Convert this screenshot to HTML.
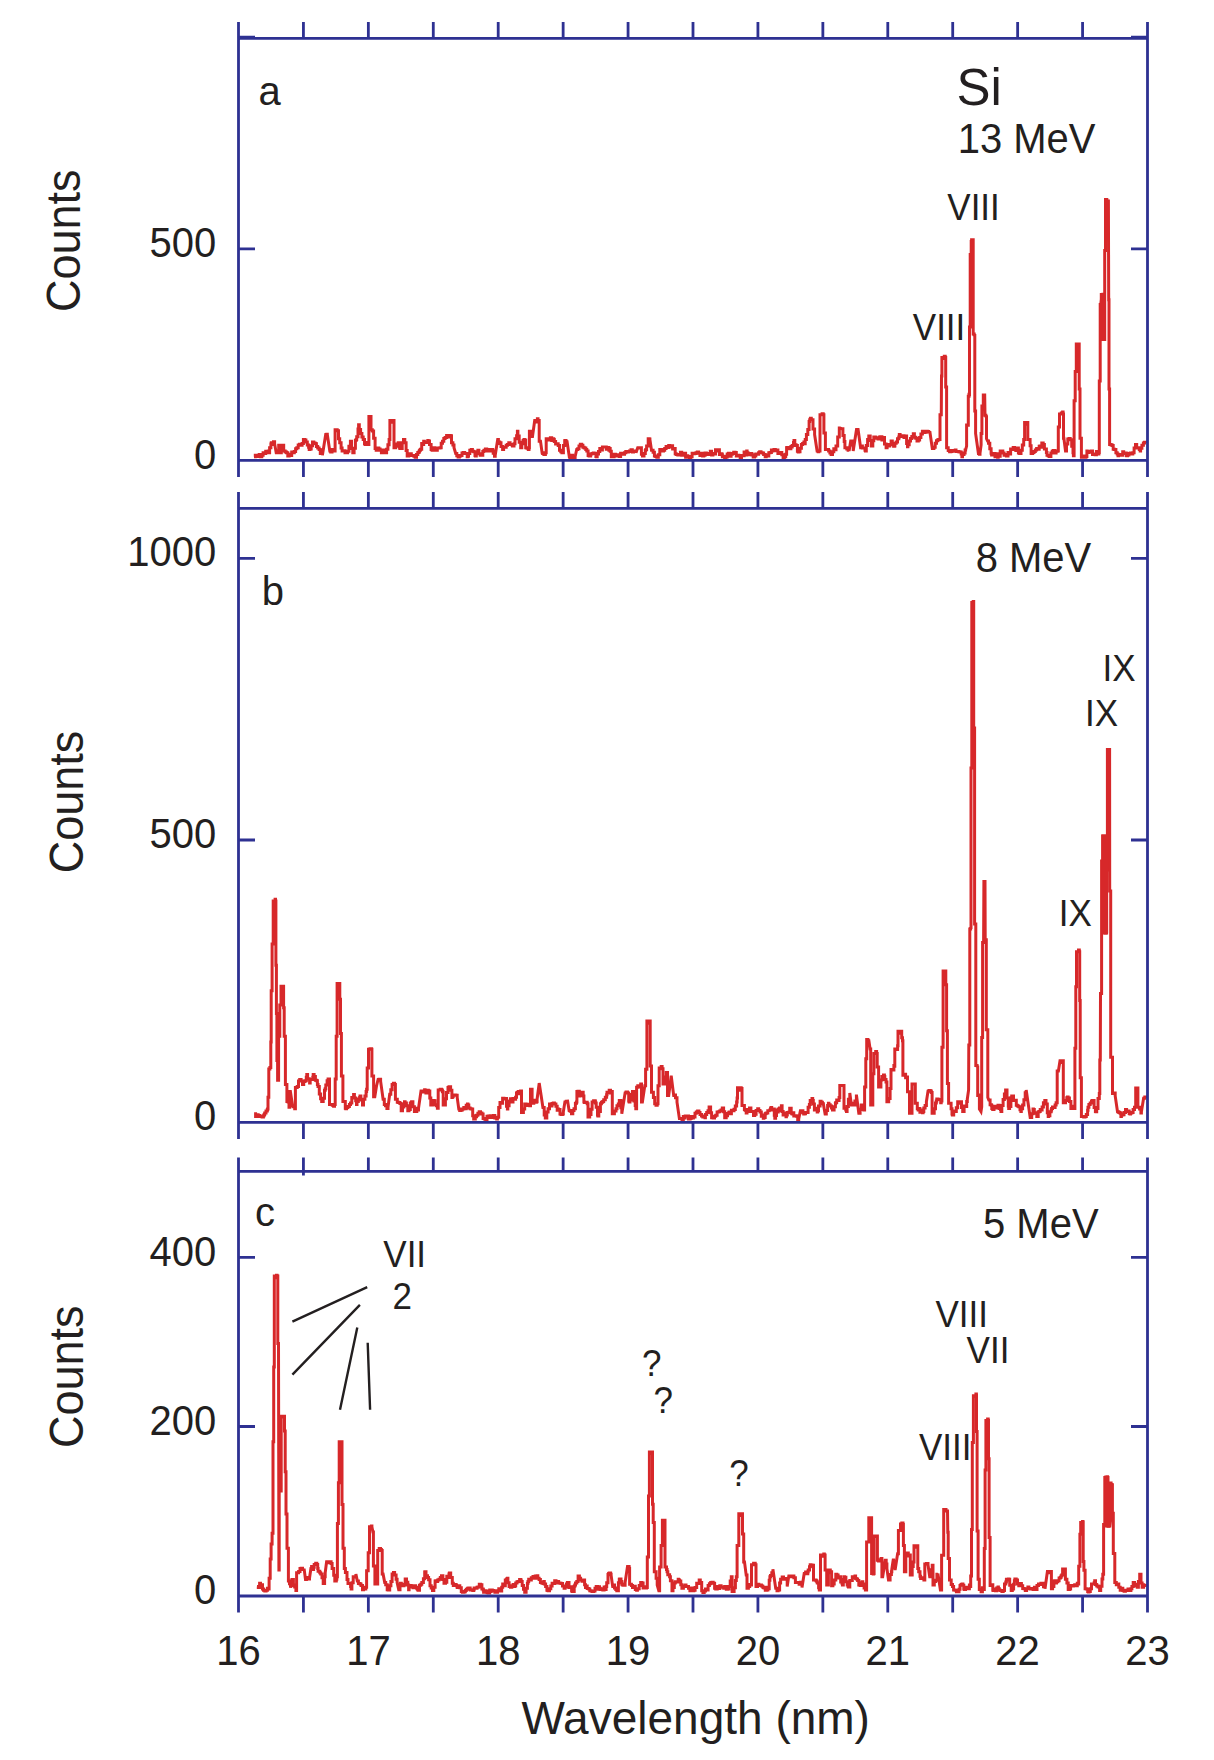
<!DOCTYPE html><html><head><meta charset="utf-8"><style>html,body{margin:0;padding:0;background:#fff;}svg{display:block}text{font-family:"Liberation Sans",sans-serif;fill:#231f20}</style></head><body>
<svg width="1214" height="1760" viewBox="0 0 1214 1760">
<rect width="1214" height="1760" fill="#fff"/>
<polyline fill="none" stroke="#d7282a" stroke-width="3.0" stroke-linejoin="miter" stroke-miterlimit="3" points="254.0,456.8 255.3,456.8 255.3,455.2 256.5,455.2 256.5,455.2 257.9,455.2 257.9,456.4 259.2,456.4 259.2,454.4 260.6,454.4 260.6,456.8 261.8,456.8 261.8,455.2 263.1,455.2 263.1,452.8 264.7,452.8 264.7,453.5 265.7,453.5 265.7,451.3 267.0,451.3 267.0,452.8 268.3,452.8 268.3,450.9 268.8,450.9 268.8,452.7 269.6,452.7 269.6,447.7 270.9,447.7 270.9,444.1 271.3,444.1 271.3,442.8 272.2,442.8 272.2,444.5 273.5,444.5 273.5,441.7 274.6,441.7 274.6,443.7 276.2,452.7 277.4,452.7 277.4,451.1 278.7,451.1 278.7,445.3 280.0,445.3 280.0,450.5 280.4,450.5 280.4,452.7 281.3,452.7 281.3,450.6 282.0,450.6 282.0,445.3 282.6,445.3 282.6,445.3 283.7,445.3 283.7,451.0 285.2,451.0 285.2,451.9 286.5,451.9 286.5,452.8 287.8,452.8 287.8,456.0 289.1,456.0 289.1,454.3 290.4,454.3 290.4,455.6 291.7,455.6 291.7,452.0 292.7,452.0 292.7,452.7 294.3,452.7 294.3,451.4 295.6,451.4 295.6,448.7 296.8,448.7 296.8,447.8 298.2,447.8 298.2,445.0 299.5,445.0 299.5,444.3 301.0,444.3 301.0,445.3 302.1,445.3 302.1,443.4 303.4,443.4 303.4,439.5 304.7,439.5 304.7,440.0 305.9,440.0 305.9,442.0 307.3,442.0 307.3,444.9 308.6,444.9 308.6,447.2 309.2,447.2 309.2,449.4 309.9,449.4 309.9,449.1 311.2,449.1 311.2,445.8 312.5,445.8 312.5,442.0 313.8,442.0 313.8,443.0 315.1,443.0 315.1,443.5 315.8,443.5 315.8,443.7 316.4,443.7 316.4,446.4 317.7,446.4 317.7,448.0 319.1,448.0 319.1,449.4 320.3,449.4 320.3,453.6 321.6,453.6 321.6,452.1 322.4,452.1 322.4,455.2 325.7,434.6 326.8,434.6 326.8,434.2 327.3,434.2 327.3,434.6 329.8,451.0 330.7,451.0 330.7,452.1 332.0,452.1 332.0,449.5 333.3,449.5 333.3,451.0 333.9,451.0 333.9,451.0 335.1,451.0 335.1,429.7 336.4,429.7 337.2,429.7 337.2,430.8 338.5,430.8 338.5,438.8 339.7,438.8 339.7,442.8 341.1,442.8 341.1,447.9 342.1,447.9 342.1,451.0 343.7,451.0 343.7,450.7 345.0,450.7 345.0,452.8 346.3,452.8 346.3,452.8 347.1,452.8 347.1,452.7 347.6,452.7 347.6,451.3 348.9,451.3 348.9,446.2 350.4,446.2 350.4,441.2 351.5,441.2 351.5,448.4 352.8,448.4 352.8,452.7 354.1,452.7 354.1,448.2 355.4,448.2 355.4,440.4 356.1,440.4 356.1,439.5 356.7,439.5 356.7,436.8 358.0,436.8 358.0,428.9 358.6,428.9 358.6,424.7 359.3,424.7 359.3,429.5 360.6,429.5 360.6,433.6 361.9,433.6 361.9,437.1 363.2,437.1 363.2,439.5 364.5,439.5 364.5,443.7 365.2,443.7 365.2,444.5 365.8,444.5 365.8,442.4 367.1,442.4 367.1,444.3 367.7,444.3 367.7,444.5 368.9,444.5 368.9,416.5 370.2,416.5 371.0,416.5 371.0,429.7 371.8,429.7 372.3,429.7 372.3,431.1 373.6,431.1 373.6,438.3 375.1,438.3 375.1,448.6 376.2,448.6 376.2,450.2 377.5,450.2 377.5,448.0 378.8,448.0 378.8,449.0 380.1,449.0 380.1,450.2 381.4,450.2 381.4,452.8 382.7,452.8 382.7,449.9 384.0,449.9 384.0,452.1 385.0,452.1 385.0,452.7 386.6,452.7 386.6,449.2 387.9,449.2 387.9,444.8 389.1,444.8 389.1,439.5 389.9,439.5 389.9,420.6 390.7,420.6 391.8,420.6 391.8,422.2 393.2,422.2 393.2,420.6 394.0,420.6 394.0,447.8 394.9,447.8 395.7,447.8 395.7,446.2 397.0,446.2 397.0,444.0 398.2,444.0 398.2,442.8 399.6,442.8 399.6,448.2 400.6,448.2 400.6,448.6 402.2,448.6 402.2,442.8 403.5,442.8 403.5,439.4 403.9,439.4 403.9,439.5 404.8,439.5 404.8,442.8 406.1,442.8 406.1,450.4 407.2,450.4 407.2,456.0 408.7,456.0 408.7,455.0 410.0,455.0 410.0,453.8 411.3,453.8 411.3,455.6 412.6,455.6 412.6,455.4 413.9,455.4 413.9,456.3 414.6,456.3 414.6,456.0 415.2,456.0 415.2,457.3 416.5,457.3 416.5,454.6 417.8,454.6 417.8,452.4 419.1,452.4 419.1,451.3 419.6,451.3 419.6,450.2 420.4,450.2 420.4,449.2 421.7,449.2 421.7,443.6 423.0,443.6 423.0,444.5 423.7,444.5 423.7,441.2 424.3,441.2 424.3,442.3 425.6,442.3 425.6,442.5 426.9,442.5 426.9,441.9 427.8,441.9 427.8,440.4 428.2,440.4 428.2,441.0 429.5,441.0 429.5,444.6 431.1,444.6 431.1,449.4 432.1,449.4 432.1,450.2 433.4,450.2 433.4,447.8 434.7,447.8 434.7,448.1 436.0,448.1 436.0,450.2 437.3,450.2 437.3,447.9 438.6,447.9 438.6,447.9 440.0,447.9 440.0,447.8 441.2,447.8 441.2,443.2 442.5,443.2 442.5,441.3 443.3,441.3 443.3,441.2 443.8,441.2 443.8,438.6 445.1,438.6 445.1,437.4 446.6,437.4 446.6,435.4 447.7,435.4 447.7,437.0 449.0,437.0 449.0,435.9 449.9,435.9 449.9,435.4 450.3,435.4 450.3,435.7 451.5,435.7 451.5,442.8 452.9,442.8 452.9,444.9 454.0,444.9 454.0,447.8 455.7,453.5 456.8,453.5 456.8,455.7 458.1,455.7 458.1,457.1 459.4,457.1 459.4,455.6 459.8,455.6 459.8,456.0 460.7,456.0 460.7,455.5 462.0,455.5 462.0,453.1 463.3,453.1 463.3,452.5 464.7,452.5 464.7,453.5 465.9,453.5 465.9,453.4 467.2,453.4 467.2,456.8 468.0,456.8 468.0,456.0 468.5,456.0 468.5,453.5 469.8,453.5 469.8,450.3 471.3,450.3 471.3,449.4 472.4,449.4 472.4,451.3 473.7,451.3 473.7,451.7 475.0,451.7 475.0,455.5 475.4,455.5 475.4,456.0 476.3,456.0 476.3,451.8 477.9,451.8 477.9,450.2 478.9,450.2 478.9,453.8 480.2,453.8 480.2,455.3 481.2,455.3 481.2,455.2 482.8,455.2 482.8,451.5 483.7,451.5 483.7,451.0 484.1,451.0 484.1,450.3 485.4,450.3 485.4,448.9 486.7,448.9 486.7,451.0 487.8,451.0 487.8,449.4 489.3,449.4 489.3,451.1 490.6,451.1 490.6,449.6 491.9,449.6 491.9,449.5 492.7,449.5 492.7,451.0 493.2,451.0 493.2,453.2 494.5,453.2 494.5,456.2 495.2,456.2 495.2,455.2 497.7,439.5 498.4,439.5 498.4,442.0 499.7,442.0 499.7,443.6 500.1,443.6 500.1,442.8 501.0,442.8 501.0,446.6 502.6,446.6 502.6,449.4 503.6,449.4 503.6,447.2 504.9,447.2 504.9,447.2 506.2,447.2 506.2,445.2 507.5,445.2 507.5,444.5 508.8,444.5 508.8,442.8 510.1,442.8 510.1,444.4 511.4,444.4 511.4,444.7 512.5,444.7 512.5,446.1 514.0,446.1 514.0,443.7 515.0,443.7 515.0,438.7 516.6,438.7 516.6,435.7 517.4,435.7 517.4,431.3 517.9,431.3 517.9,435.9 519.2,435.9 519.2,442.3 520.7,442.3 520.7,447.8 521.8,447.8 521.8,443.8 523.1,443.8 523.1,440.6 524.0,440.6 524.0,439.5 524.4,439.5 524.4,440.1 525.7,440.1 525.7,447.8 527.0,447.8 527.0,448.3 528.3,448.3 528.3,449.6 529.0,449.6 529.0,447.8 529.4,447.8 529.4,431.3 529.8,431.3 530.9,431.3 530.9,435.7 532.3,435.7 532.3,437.9 534.7,420.6 536.1,420.6 536.1,421.9 537.4,421.9 537.4,418.8 538.0,418.8 538.0,420.6 539.2,420.6 539.2,441.2 540.5,441.2 542.1,452.7 542.6,452.7 542.6,453.4 543.9,453.4 543.9,454.5 545.4,454.5 545.4,452.7 546.2,452.7 546.2,438.7 547.1,438.7 547.8,438.7 547.8,439.9 549.1,439.9 549.1,438.8 550.4,438.8 550.4,437.7 551.7,437.7 551.7,440.5 553.0,440.5 553.0,438.7 553.7,438.7 553.7,439.5 554.3,439.5 554.3,441.6 555.6,441.6 555.6,444.0 557.0,444.0 557.0,443.7 558.2,443.7 558.2,445.5 559.5,445.5 559.5,450.3 560.8,450.3 560.8,451.7 561.9,451.7 561.9,452.7 563.4,452.7 563.4,445.5 564.7,445.5 564.7,440.7 565.2,440.7 565.2,440.4 566.0,440.4 566.0,442.2 566.9,442.2 566.9,440.4 569.3,456.8 569.9,456.8 569.9,458.1 571.2,458.1 571.2,455.2 572.5,455.2 572.5,458.2 573.8,458.2 573.8,458.9 575.1,458.9 575.1,456.8 576.7,449.4 577.7,449.4 577.7,448.8 579.0,448.8 579.0,445.9 580.3,445.9 580.3,444.3 581.7,444.3 581.7,445.3 582.9,445.3 582.9,447.2 584.2,447.2 584.2,447.9 585.8,447.9 585.8,449.4 586.8,449.4 586.8,451.1 588.1,451.1 588.1,455.6 589.1,455.6 589.1,456.0 590.7,456.0 590.7,453.9 592.0,453.9 592.0,453.4 593.3,453.4 593.3,452.9 594.0,452.9 594.0,453.5 594.6,453.5 594.6,453.2 595.9,453.2 595.9,456.4 596.5,456.4 596.5,456.8 597.2,456.8 597.2,454.0 598.5,454.0 598.5,451.5 599.8,451.5 599.8,448.6 601.1,448.6 601.1,450.0 602.4,450.0 602.4,447.1 603.7,447.1 603.7,447.1 604.7,447.1 604.7,447.0 606.3,447.0 606.3,449.3 607.6,449.3 607.6,447.6 608.9,447.6 608.9,450.2 609.7,450.2 609.7,448.6 610.2,448.6 610.2,451.2 611.3,451.2 611.3,456.8 612.8,456.8 612.8,456.7 614.1,456.7 614.1,454.3 615.4,454.3 615.4,456.0 616.7,456.0 616.7,454.8 617.9,454.8 617.9,456.0 619.3,456.0 619.3,456.6 620.6,456.6 620.6,453.2 621.9,453.2 621.9,453.9 623.2,453.9 623.2,454.3 624.5,454.3 624.5,452.7 625.8,452.7 625.8,451.5 627.1,451.5 627.1,451.9 628.4,451.9 628.4,451.6 629.5,451.6 629.5,451.0 631.0,451.0 631.0,449.7 632.3,449.7 632.3,452.0 633.6,452.0 633.6,451.0 634.9,451.0 634.9,451.4 636.0,451.4 636.0,452.7 637.7,447.8 638.8,447.8 638.8,448.1 640.0,448.1 640.0,447.8 641.4,447.8 641.4,454.2 642.5,454.2 642.5,456.0 644.0,456.0 644.0,453.5 645.3,453.5 645.3,450.4 645.8,450.4 645.8,449.4 646.6,449.4 646.6,445.9 648.2,445.9 648.2,438.7 649.2,438.7 649.2,439.0 649.9,439.0 649.9,439.5 651.5,450.2 653.1,450.2 653.1,452.2 654.4,452.2 654.4,456.0 655.7,456.0 655.7,456.6 656.5,456.6 656.5,456.8 657.0,456.8 657.0,457.3 658.3,457.3 658.3,454.7 659.8,454.7 659.8,449.4 660.9,449.4 660.9,449.5 662.2,449.5 662.2,451.0 663.5,451.0 663.5,450.3 664.7,450.3 664.7,448.6 666.1,448.6 666.1,446.5 667.4,446.5 667.4,447.5 668.7,447.5 668.7,445.4 669.7,445.4 669.7,447.0 671.3,447.0 671.3,445.7 672.6,445.7 672.6,448.9 673.8,448.9 673.8,448.6 675.2,448.6 675.2,453.7 676.2,453.7 676.2,454.4 677.8,454.4 677.8,455.1 679.1,455.1 679.1,454.7 680.4,454.7 680.4,452.3 681.7,452.3 681.7,455.3 682.8,455.3 682.8,453.5 684.3,453.5 684.3,453.3 685.6,453.3 685.6,457.3 686.9,457.3 686.9,455.8 687.8,455.8 687.8,456.8 688.2,456.8 688.2,456.5 689.5,456.5 689.5,458.1 690.8,458.1 690.8,456.8 692.1,456.8 692.1,453.2 693.4,453.2 693.4,453.7 694.7,453.7 694.7,453.4 696.0,453.4 696.0,452.7 697.3,452.7 697.3,452.0 698.6,452.0 698.6,453.2 699.9,453.2 699.9,455.6 701.2,455.6 701.2,453.2 702.6,453.2 702.6,456.0 703.8,456.0 703.8,455.3 705.1,455.3 705.1,452.9 706.4,452.9 706.4,453.8 707.7,453.8 707.7,454.6 709.2,454.6 709.2,453.5 710.3,453.5 710.3,451.2 711.6,451.2 711.6,454.9 712.9,454.9 712.9,453.6 714.2,453.6 714.2,454.1 715.5,454.1 715.5,449.8 716.8,449.8 716.8,450.2 717.4,450.2 717.4,451.0 718.1,451.0 718.1,449.8 719.4,449.8 719.4,454.5 720.7,454.5 720.7,453.8 722.0,453.8 722.0,454.7 722.4,454.7 722.4,456.8 723.3,456.8 723.3,456.2 724.6,456.2 724.6,457.9 725.9,457.9 725.9,457.0 727.2,457.0 727.2,454.1 728.5,454.1 728.5,453.2 729.8,453.2 729.8,456.2 731.1,456.2 731.1,454.2 732.3,454.2 732.3,453.5 733.7,453.5 733.7,452.2 735.0,452.2 735.0,452.6 736.3,452.6 736.3,455.9 737.6,455.9 737.6,455.2 738.8,455.2 738.8,456.0 740.2,456.0 740.2,457.4 741.5,457.4 741.5,455.5 742.8,455.5 742.8,455.7 744.1,455.7 744.1,452.1 745.4,452.1 745.4,454.9 746.7,454.9 746.7,451.0 747.1,451.0 747.1,452.7 748.0,452.7 748.0,454.7 749.3,454.7 749.3,453.4 750.6,453.4 750.6,453.4 751.9,453.4 751.9,454.9 753.2,454.9 753.2,457.0 754.5,457.0 754.5,454.7 755.3,454.7 755.3,456.0 755.8,456.0 755.8,453.9 757.1,453.9 757.1,454.3 758.6,454.3 758.6,452.7 759.7,452.7 759.7,451.7 761.0,451.7 761.0,452.7 762.3,452.7 762.3,453.0 763.6,453.0 763.6,454.5 765.2,454.5 765.2,456.8 766.2,456.8 766.2,455.1 767.5,455.1 767.5,455.9 768.8,455.9 768.8,452.7 770.1,452.7 770.1,452.5 771.4,452.5 771.4,449.9 771.8,449.9 771.8,451.0 772.7,451.0 772.7,450.6 774.0,450.6 774.0,449.4 775.3,449.4 775.3,450.8 776.6,450.8 776.6,450.1 777.9,450.1 777.9,453.6 778.4,453.6 778.4,452.7 779.2,452.7 779.2,453.4 780.5,453.4 780.5,452.6 781.8,452.6 781.8,454.7 783.1,454.7 783.1,457.5 784.4,457.5 784.4,454.7 785.0,454.7 785.0,456.8 785.7,456.8 785.7,454.3 786.6,454.3 786.6,447.8 787.0,447.8 787.0,447.4 788.3,447.4 788.3,447.5 789.6,447.5 789.6,448.8 790.9,448.8 790.9,446.6 791.6,446.6 791.6,447.0 792.2,447.0 792.2,445.4 793.5,445.4 793.5,442.6 794.0,442.6 794.0,440.4 794.8,440.4 794.8,444.7 796.1,444.7 796.1,445.5 797.4,445.5 797.4,451.2 798.2,451.2 798.2,451.9 798.7,451.9 798.7,451.7 800.0,451.7 800.0,448.3 801.4,448.3 801.4,444.5 802.6,444.5 802.6,443.5 803.9,443.5 803.9,441.9 804.7,441.9 804.7,443.7 805.2,443.7 805.2,439.4 806.4,439.4 806.4,434.6 807.8,434.6 807.8,429.4 809.1,429.4 809.1,421.4 809.7,421.4 809.7,419.8 810.4,419.8 810.4,418.3 811.3,418.3 811.3,419.8 811.7,419.8 811.7,419.8 813.0,419.8 813.0,428.9 814.6,428.9 814.6,434.6 817.1,451.0 818.2,451.0 818.2,451.8 818.7,451.8 818.7,451.0 820.0,451.0 820.0,414.8 821.2,414.8 822.1,414.8 822.1,413.8 823.2,413.8 823.2,414.8 823.9,414.8 823.9,432.9 824.5,432.9 825.4,432.9 825.4,449.4 826.2,449.4 827.3,449.4 827.3,449.4 828.6,449.4 828.6,450.9 829.9,450.9 829.9,453.0 831.1,453.0 831.1,454.4 832.5,454.4 832.5,451.8 833.8,451.8 833.8,448.8 835.1,448.8 835.1,449.7 836.0,449.7 836.0,446.1 836.4,446.1 836.4,446.0 837.7,446.0 837.7,437.0 839.3,437.0 839.3,428.0 840.0,428.0 841.6,428.7 842.9,428.7 842.9,435.6 844.2,435.6 844.2,441.5 844.9,441.5 844.9,447.7 845.5,447.7 845.5,447.7 846.8,447.7 846.8,449.1 848.1,449.1 848.1,450.2 849.1,450.2 849.1,451.0 850.7,441.1 852.0,441.1 852.0,444.9 853.2,444.9 853.2,451.0 856.5,429.5 857.2,429.5 857.2,429.5 858.1,429.5 858.1,429.5 860.6,447.7 861.1,447.7 861.1,445.9 862.4,445.9 862.4,447.9 863.7,447.9 863.7,448.0 865.0,448.0 865.0,450.2 865.5,450.2 865.5,451.0 866.3,451.0 866.3,445.4 867.6,445.4 867.6,439.4 868.8,439.4 868.8,436.1 870.2,436.1 870.2,440.5 871.3,440.5 871.3,446.0 872.8,446.0 872.8,440.7 873.8,440.7 873.8,437.0 875.4,437.0 875.4,437.8 876.7,437.8 876.7,438.2 878.0,438.2 878.0,439.0 879.3,439.0 879.3,437.0 880.6,437.0 880.6,436.8 881.9,436.8 881.9,439.9 882.8,439.9 882.8,437.8 883.2,437.8 883.2,437.5 884.5,437.5 884.5,443.9 886.1,443.9 886.1,447.7 887.1,447.7 887.1,444.4 888.4,444.4 888.4,446.1 889.7,446.1 889.7,444.7 891.1,444.7 891.1,441.1 892.3,441.1 892.3,443.9 893.6,443.9 893.6,446.2 894.4,446.2 894.4,446.0 894.9,446.0 894.9,443.2 896.2,443.2 896.2,441.9 897.5,441.9 897.5,438.7 898.8,438.7 898.8,437.1 899.3,437.1 899.3,434.5 900.1,434.5 900.1,436.1 901.4,436.1 901.4,436.5 902.7,436.5 902.7,435.8 904.0,435.8 904.0,437.5 905.1,437.5 905.1,436.1 906.6,436.1 906.6,443.6 907.5,443.6 907.5,446.8 907.9,446.8 907.9,444.7 909.2,444.7 909.2,440.9 910.5,440.9 910.5,438.4 911.8,438.4 911.8,436.5 913.3,436.5 913.3,433.7 914.4,433.7 914.4,437.2 915.7,437.2 915.7,438.3 917.0,438.3 917.0,440.9 917.4,440.9 917.4,441.1 918.3,441.1 918.3,439.9 919.6,439.9 919.6,437.5 920.9,437.5 920.9,434.1 922.4,434.1 922.4,431.2 923.5,431.2 923.5,432.5 924.8,432.5 924.8,432.3 926.1,432.3 926.1,431.2 927.4,431.2 927.4,431.4 928.7,431.4 928.7,431.9 929.8,431.9 929.8,431.2 932.3,448.5 933.9,448.5 933.9,447.3 935.2,447.3 935.2,443.3 936.5,443.3 936.5,440.7 937.8,440.7 937.8,439.8 938.8,439.8 938.8,439.4 940.0,439.4 940.0,414.7 941.3,414.7 941.5,376.0 941.9,376.0 941.9,357.5 942.3,357.5 943.0,357.5 943.0,358.5 944.3,358.5 944.3,356.2 945.2,356.2 945.2,357.5 945.7,357.5 945.7,387.0 946.2,387.0 946.6,387.0 946.6,447.7 947.0,447.7 948.2,447.7 948.2,450.6 949.6,450.6 949.6,451.8 950.8,451.8 950.8,451.4 952.1,451.4 952.1,450.5 953.4,450.5 953.4,450.6 954.7,450.6 954.7,451.1 955.3,451.1 955.3,450.1 956.0,450.1 956.0,451.6 957.3,451.6 957.3,451.6 958.6,451.6 958.6,451.8 959.9,451.8 959.9,451.9 961.2,451.9 961.2,454.1 961.9,454.1 961.9,456.7 962.5,456.7 962.5,454.6 964.0,454.6 964.0,453.0 965.1,453.0 965.1,450.1 965.6,450.1 965.6,450.0 966.6,446.0 966.6,425.0 967.7,425.0 967.7,425.3 968.3,425.3 968.3,425.0 968.3,396.3 969.0,396.3 969.0,394.2 969.5,394.2 969.5,396.3 969.5,327.0 970.2,327.0 970.2,254.5 971.2,254.5 971.2,241.6 971.6,241.6 971.6,239.7 973.2,239.7 973.2,241.6 973.2,334.0 974.2,334.0 974.2,334.8 974.8,334.8 974.8,334.0 974.8,411.0 975.6,411.0 975.6,433.5 976.8,442.0 978.4,453.4 979.4,453.4 979.4,454.2 980.0,454.2 980.0,453.4 981.1,445.0 981.1,433.5 981.9,433.5 981.9,406.0 982.8,406.0 983.3,406.0 983.3,395.1 983.8,395.1 984.7,395.1 985.0,415.2 985.9,415.2 985.9,416.0 986.5,416.0 986.5,415.2 986.5,438.7 987.6,441.0 988.5,441.0 988.5,443.3 989.8,443.3 989.8,448.8 991.1,448.8 991.1,453.2 991.6,453.2 991.6,455.1 992.4,455.1 992.4,455.0 993.7,455.0 993.7,453.4 995.0,453.4 995.0,456.8 996.3,456.8 996.3,453.8 997.6,453.8 997.6,457.2 998.2,457.2 998.2,455.1 998.9,455.1 998.9,456.3 1000.2,456.3 1000.2,451.0 1001.5,451.0 1001.5,451.6 1002.3,451.6 1002.3,451.0 1002.8,451.0 1002.8,453.0 1004.1,453.0 1004.1,455.2 1005.4,455.2 1005.4,454.5 1006.4,454.5 1006.4,455.9 1008.0,455.9 1008.0,452.5 1009.3,452.5 1009.3,454.0 1010.6,454.0 1010.6,449.0 1011.3,449.0 1011.3,449.3 1011.9,449.3 1011.9,449.6 1013.2,449.6 1013.2,447.4 1014.5,447.4 1014.5,448.9 1015.8,448.9 1015.8,450.6 1016.3,450.6 1016.3,448.5 1017.1,448.5 1017.1,448.1 1018.4,448.1 1018.4,453.0 1019.6,453.0 1019.6,453.4 1021.0,453.4 1021.0,450.3 1022.3,450.3 1022.3,445.1 1023.7,445.1 1023.7,439.4 1024.6,439.4 1024.6,422.5 1025.5,422.5 1026.2,422.5 1026.2,424.2 1027.0,424.2 1027.0,422.5 1027.8,422.5 1027.8,439.4 1028.6,439.4 1030.1,439.4 1030.1,445.7 1031.1,445.7 1031.1,453.4 1032.7,453.4 1032.7,452.4 1034.0,452.4 1034.0,451.4 1035.3,451.4 1035.3,449.9 1036.6,449.9 1036.6,448.4 1037.7,448.4 1037.7,449.3 1039.2,449.3 1039.2,446.3 1040.0,446.3 1040.0,446.0 1040.5,446.0 1040.5,447.3 1041.8,447.3 1041.8,443.0 1043.2,443.0 1043.2,444.6 1044.4,444.6 1044.4,449.1 1045.7,449.1 1045.7,449.1 1046.4,449.1 1046.4,452.5 1047.0,452.5 1047.0,455.2 1048.3,455.2 1048.3,455.9 1049.5,455.9 1049.5,456.5 1050.9,456.5 1050.9,453.1 1052.2,453.1 1052.2,451.2 1052.7,451.2 1052.7,450.9 1053.5,450.9 1053.5,450.4 1054.8,450.4 1054.8,453.1 1056.1,453.1 1056.1,451.3 1057.5,451.3 1057.5,450.9 1058.3,450.9 1058.3,427.1 1059.1,427.1 1059.5,427.1 1059.5,414.0 1059.9,414.0 1061.3,414.0 1061.3,413.0 1062.6,413.0 1062.6,412.0 1063.1,412.0 1063.1,414.0 1063.5,414.0 1063.5,438.2 1063.9,438.2 1065.5,450.9 1066.5,450.9 1066.5,444.0 1067.8,444.0 1067.8,439.0 1069.1,439.0 1069.1,438.5 1070.2,438.5 1070.2,439.8 1071.7,439.8 1071.7,446.2 1073.0,446.2 1073.0,452.7 1073.4,452.7 1073.4,455.7 1074.1,455.7 1074.1,400.8 1074.7,400.8 1075.2,400.8 1075.2,371.4 1075.8,371.4 1076.3,371.4 1076.3,344.0 1076.9,344.0 1078.2,344.0 1078.2,344.0 1079.0,344.0 1079.0,344.0 1079.2,344.0 1079.2,388.9 1079.5,388.9 1080.0,388.9 1080.0,438.2 1080.6,438.2 1081.4,438.2 1081.4,457.3 1082.2,457.3 1083.4,457.3 1083.4,455.9 1084.7,455.9 1084.7,456.7 1085.3,456.7 1085.3,457.3 1086.0,457.3 1086.0,456.5 1086.9,456.5 1086.9,450.9 1087.3,450.9 1087.3,452.6 1088.6,452.6 1088.6,452.3 1089.9,452.3 1089.9,451.5 1090.9,451.5 1090.9,450.9 1092.5,450.9 1092.5,454.4 1094.1,454.4 1094.1,454.1 1095.1,454.1 1095.1,454.7 1096.4,454.7 1096.4,451.4 1097.7,451.4 1097.7,453.9 1098.9,453.9 1098.9,452.5 1099.3,452.5 1099.3,380.9 1099.7,380.9 1100.2,380.9 1100.2,304.6 1100.8,304.6 1102.1,294.5 1102.9,294.5 1102.9,294.3 1103.6,294.3 1103.6,294.5 1104.0,294.5 1104.0,339.6 1104.4,339.6 1104.7,339.6 1104.7,250.5 1104.9,250.5 1105.5,250.5 1105.5,199.5 1106.0,199.5 1106.8,199.5 1106.8,200.6 1108.4,200.6 1108.4,199.5 1108.7,299.8 1109.0,299.8 1109.0,388.9 1109.2,388.9 1109.6,388.9 1109.6,444.6 1110.0,444.6 1110.7,444.6 1110.7,444.7 1112.0,444.7 1112.0,445.6 1113.2,445.6 1113.2,449.3 1114.6,449.3 1114.6,449.5 1115.9,449.5 1115.9,452.8 1117.2,452.8 1117.2,453.9 1118.0,453.9 1118.0,455.7 1118.5,455.7 1118.5,454.4 1119.8,454.4 1119.8,455.2 1121.1,455.2 1121.1,455.2 1122.7,455.2 1122.7,451.7 1123.7,451.7 1123.7,453.4 1125.0,453.4 1125.0,453.1 1126.3,453.1 1126.3,455.6 1126.7,455.6 1126.7,455.7 1127.6,455.7 1127.6,454.9 1128.9,454.9 1128.9,453.5 1130.2,453.5 1130.2,453.0 1131.5,453.0 1131.5,454.1 1132.8,454.1 1132.8,452.8 1134.1,452.8 1134.1,447.9 1135.5,447.9 1135.5,444.6 1136.7,444.6 1136.7,448.0 1137.9,448.0 1137.9,447.8 1139.3,447.8 1139.3,449.5 1140.2,449.5 1140.2,450.9 1140.6,450.9 1140.6,448.3 1141.9,448.3 1141.9,445.3 1143.4,445.3 1143.4,443.0 1144.5,443.0 1144.5,442.3 1145.8,442.3 1145.8,443.0"/>
<polyline fill="none" stroke="#d7282a" stroke-width="3.0" stroke-linejoin="miter" stroke-miterlimit="3" points="255.6,1112.2 255.6,1116.5 256.9,1116.5 256.9,1114.7 258.2,1114.7 258.2,1115.4 259.5,1115.4 259.5,1115.4 259.9,1115.4 259.9,1116.5 260.8,1116.5 260.8,1116.4 262.1,1116.4 262.1,1117.1 263.4,1117.1 263.4,1115.8 264.1,1115.8 264.1,1114.4 264.7,1114.4 264.7,1113.1 266.0,1113.1 266.0,1111.0 267.3,1111.0 267.3,1109.4 267.7,1109.4 267.7,1108.7 268.0,1108.7 268.0,1097.3 268.4,1097.3 268.8,1097.3 268.8,1068.9 269.1,1068.9 269.9,1068.9 269.9,1067.6 270.5,1067.6 270.5,1067.5 270.8,1067.5 270.8,1041.9 271.0,1041.9 271.2,1041.9 271.2,990.8 271.5,990.8 272.1,990.8 272.1,943.9 272.7,943.9 273.2,943.9 273.2,901.1 273.8,901.1 275.1,901.1 275.1,899.2 275.5,899.2 275.5,901.1 275.9,901.1 275.9,965.2 276.2,965.2 276.4,965.2 276.4,1013.5 276.6,1013.5 276.9,1013.5 276.9,1060.4 277.2,1060.4 277.6,1060.4 277.6,1080.3 278.1,1080.3 278.6,1080.3 278.6,1036.3 279.1,1036.3 279.8,1036.3 279.8,1005.0 280.5,1005.0 281.0,1005.0 281.0,986.3 281.5,986.3 282.9,986.3 282.9,988.4 283.3,988.4 283.3,986.3 283.6,986.3 283.6,1007.8 283.8,1007.8 284.2,1007.8 284.2,1036.3 284.7,1036.3 285.4,1036.3 285.4,1084.5 286.2,1084.5 286.9,1084.5 286.9,1101.6 287.6,1101.6 288.1,1101.6 288.1,1102.0 289.0,1102.0 289.0,1107.3 289.7,1107.3 289.7,1091.6 290.4,1091.6 292.6,1105.9 293.3,1105.9 293.3,1106.8 294.7,1106.8 294.7,1108.7 295.4,1108.7 295.4,1087.4 296.1,1087.4 297.2,1087.4 297.2,1086.6 298.5,1086.6 298.5,1081.0 299.7,1081.0 299.7,1079.6 301.1,1079.6 301.1,1080.9 302.5,1080.9 302.5,1084.5 303.7,1084.5 303.7,1081.5 305.0,1081.5 305.0,1080.7 306.3,1080.7 306.3,1077.3 306.8,1077.3 306.8,1074.6 307.6,1074.6 307.6,1078.7 308.9,1078.7 308.9,1078.9 309.6,1078.9 309.6,1083.1 310.2,1083.1 310.2,1079.6 311.5,1079.6 311.5,1079.5 312.8,1079.5 312.8,1077.3 313.2,1077.3 313.2,1074.6 314.1,1074.6 314.1,1076.6 315.4,1076.6 315.4,1080.2 316.7,1080.2 316.7,1080.7 317.4,1080.7 317.4,1084.5 318.0,1084.5 318.0,1086.4 319.3,1086.4 319.3,1093.9 320.6,1093.9 320.6,1098.7 321.7,1098.7 321.7,1101.6 323.2,1101.6 323.2,1098.2 324.5,1098.2 324.5,1090.3 325.2,1090.3 325.2,1088.8 325.8,1088.8 325.8,1085.0 327.1,1085.0 327.1,1080.8 328.1,1080.8 328.1,1078.9 329.5,1078.9 329.5,1104.4 330.9,1104.4 332.3,1104.4 332.3,1105.2 333.6,1105.2 333.6,1106.3 334.5,1106.3 334.5,1104.4 335.2,1104.4 335.2,1078.9 335.9,1078.9 336.2,1078.9 336.2,1036.3 336.6,1036.3 337.1,1036.3 337.1,983.5 337.7,983.5 338.8,983.5 338.8,984.5 339.4,984.5 339.4,983.5 339.8,983.5 339.8,999.3 340.1,999.3 340.5,999.3 340.5,1033.4 340.9,1033.4 341.4,1033.4 341.4,1076.0 342.0,1076.0 342.9,1076.0 342.9,1101.6 343.7,1101.6 345.3,1101.6 345.3,1108.2 345.8,1108.2 345.8,1108.7 346.6,1108.7 346.6,1107.6 347.9,1107.6 347.9,1106.4 349.4,1106.4 349.4,1104.4 350.5,1104.4 350.5,1103.0 351.8,1103.0 351.8,1097.6 353.1,1097.6 353.1,1097.5 353.6,1097.5 353.6,1094.5 354.4,1094.5 354.4,1097.9 355.7,1097.9 355.7,1100.8 356.5,1100.8 356.5,1104.4 357.0,1104.4 357.0,1101.5 358.3,1101.5 358.3,1098.9 359.6,1098.9 359.6,1097.5 360.0,1097.5 360.0,1095.9 360.9,1095.9 360.9,1100.0 362.5,1100.0 362.5,1105.0 363.5,1105.0 363.5,1099.3 364.9,1099.3 364.9,1095.9 366.1,1095.9 366.1,1091.6 366.6,1091.6 366.6,1089.3 367.2,1089.3 367.2,1067.9 367.9,1067.9 368.5,1067.9 368.5,1049.3 369.1,1049.3 370.0,1049.3 370.0,1048.8 371.5,1048.8 371.5,1049.3 371.9,1049.3 371.9,1076.1 372.4,1076.1 373.6,1076.1 373.6,1096.7 374.8,1096.7 376.5,1086.0 378.1,1079.4 379.1,1079.4 379.1,1079.2 380.6,1079.2 380.6,1081.1 383.1,1099.2 384.3,1099.2 384.3,1104.5 385.5,1104.5 385.5,1105.8 386.9,1105.8 386.9,1108.4 388.0,1108.4 388.0,1107.4 389.7,1094.3 390.8,1094.3 390.8,1089.7 392.1,1089.7 392.1,1084.4 393.4,1084.4 393.4,1083.3 394.6,1083.3 394.6,1084.4 395.4,1084.4 395.4,1099.2 396.2,1099.2 397.3,1099.2 397.3,1102.3 398.6,1102.3 398.6,1102.5 399.5,1102.5 399.5,1102.5 399.9,1102.5 399.9,1103.6 401.2,1103.6 401.2,1110.7 402.5,1110.7 402.5,1107.1 403.8,1107.1 403.8,1104.4 404.5,1104.4 404.5,1101.7 405.1,1101.7 405.1,1103.0 406.4,1103.0 406.4,1105.8 407.8,1105.8 407.8,1110.7 409.0,1110.7 409.0,1109.6 410.3,1109.6 410.3,1103.3 411.1,1103.3 411.1,1102.5 411.6,1102.5 411.6,1101.8 412.9,1101.8 412.9,1106.7 414.4,1106.7 414.4,1111.5 415.5,1111.5 415.5,1111.4 416.8,1111.4 416.8,1108.3 418.1,1108.3 418.1,1109.9 418.5,1109.9 418.5,1108.3 421.0,1091.0 422.0,1091.0 422.0,1092.1 423.3,1092.1 423.3,1091.0 424.6,1091.0 424.6,1089.7 425.1,1089.7 425.1,1091.0 425.9,1091.0 425.9,1093.1 427.2,1093.1 427.2,1090.2 428.4,1090.2 428.4,1091.0 429.8,1091.0 429.8,1098.0 430.8,1098.0 430.8,1105.0 432.4,1105.0 432.4,1104.1 433.7,1104.1 433.7,1100.4 434.1,1100.4 434.1,1100.8 435.0,1100.8 435.0,1104.8 436.3,1104.8 436.3,1105.8 437.4,1105.8 437.4,1108.3 438.2,1108.3 438.2,1090.1 439.1,1090.1 440.2,1090.1 440.2,1089.3 441.5,1089.3 441.5,1090.1 442.4,1090.1 442.4,1091.8 443.2,1091.8 443.2,1105.0 444.0,1105.0 445.4,1105.0 445.4,1098.8 446.5,1098.8 446.5,1092.6 448.0,1092.6 448.0,1087.6 449.0,1087.6 449.0,1086.8 450.6,1086.8 450.6,1090.3 451.9,1090.3 451.9,1097.6 452.3,1097.6 452.3,1096.7 453.2,1096.7 453.2,1095.3 454.5,1095.3 454.5,1095.1 455.8,1095.1 455.8,1095.3 457.2,1095.3 457.2,1097.5 458.8,1109.1 459.7,1109.1 459.7,1110.5 461.0,1110.5 461.0,1110.0 462.3,1110.0 462.3,1108.9 463.8,1108.9 463.8,1107.4 464.9,1107.4 464.9,1108.7 466.2,1108.7 466.2,1105.2 467.5,1105.2 467.5,1103.9 467.9,1103.9 467.9,1105.0 468.8,1105.0 468.8,1108.0 470.1,1108.0 470.1,1108.8 471.2,1108.8 471.2,1109.1 472.7,1109.1 472.7,1115.8 473.7,1115.8 473.7,1119.0 475.3,1119.0 475.3,1116.8 476.6,1116.8 476.6,1115.3 477.9,1115.3 477.9,1113.3 478.6,1113.3 478.6,1114.0 479.2,1114.0 479.2,1111.8 480.5,1111.8 480.5,1113.0 481.9,1113.0 481.9,1114.0 483.1,1114.0 483.1,1118.4 484.4,1118.4 484.4,1119.0 485.7,1119.0 485.7,1120.3 487.0,1120.3 487.0,1116.2 488.3,1116.2 488.3,1116.1 489.6,1116.1 489.6,1117.4 490.1,1117.4 490.1,1115.7 490.9,1115.7 490.9,1117.5 492.2,1117.5 492.2,1116.5 493.5,1116.5 493.5,1115.4 494.8,1115.4 494.8,1117.9 496.1,1117.9 496.1,1118.1 496.7,1118.1 496.7,1119.0 497.4,1119.0 497.4,1117.3 498.7,1117.3 498.7,1107.6 500.0,1107.6 500.0,1102.5 501.3,1102.5 501.3,1103.2 502.6,1103.2 502.6,1098.3 503.9,1098.3 503.9,1098.9 505.0,1098.9 505.0,1098.4 506.5,1098.4 506.5,1106.3 507.4,1106.3 507.4,1109.1 507.8,1109.1 507.8,1105.8 509.1,1105.8 509.1,1101.4 509.9,1101.4 509.9,1100.8 510.4,1100.8 510.4,1098.7 511.7,1098.7 511.7,1101.9 513.0,1101.9 513.0,1098.5 514.0,1098.5 514.0,1099.2 515.6,1099.2 515.6,1097.2 516.5,1097.2 516.5,1093.4 516.9,1093.4 516.9,1092.5 518.2,1092.5 518.2,1091.4 519.5,1091.4 519.5,1093.7 520.6,1093.7 520.6,1091.0 521.5,1091.0 521.5,1112.4 522.3,1112.4 523.4,1112.4 523.4,1109.1 524.7,1109.1 524.7,1104.1 526.0,1104.1 526.0,1105.5 527.3,1105.5 527.3,1104.2 528.6,1104.2 528.6,1104.4 529.7,1104.4 529.7,1105.8 530.5,1105.8 530.5,1089.3 531.3,1089.3 532.1,1089.3 532.1,1103.3 533.0,1103.3 533.8,1103.3 533.8,1100.3 535.1,1100.3 535.1,1102.3 536.4,1102.3 536.4,1101.7 537.1,1101.7 537.1,1099.2 539.2,1083.1 541.2,1095.9 542.9,1107.4 544.2,1107.4 544.2,1115.1 545.3,1115.1 545.3,1118.1 546.8,1118.1 546.8,1111.9 548.1,1111.9 548.1,1108.7 549.5,1108.7 549.5,1104.1 550.7,1104.1 550.7,1106.1 552.0,1106.1 552.0,1103.6 553.3,1103.6 553.3,1103.0 554.4,1103.0 554.4,1104.1 555.9,1104.1 555.9,1106.3 557.2,1106.3 557.2,1110.2 557.7,1110.2 557.7,1109.1 558.5,1109.1 558.5,1109.4 560.0,1109.4 560.0,1114.0 561.1,1114.0 561.1,1114.4 562.4,1114.4 562.4,1114.0 563.3,1114.0 563.3,1112.0 564.9,1102.1 566.3,1102.1 566.3,1101.2 567.4,1101.2 567.4,1099.7 569.1,1110.4 570.2,1110.4 570.2,1111.2 571.5,1111.2 571.5,1113.7 572.8,1113.7 572.8,1110.5 574.0,1110.5 574.0,1108.7 575.4,1108.7 575.4,1103.2 576.5,1103.2 576.5,1102.1 576.9,1102.1 576.9,1091.4 577.3,1091.4 578.0,1091.4 578.0,1091.2 579.3,1091.2 579.3,1095.9 579.8,1095.9 579.8,1095.6 580.6,1095.6 580.6,1093.4 582.2,1093.4 582.2,1092.3 583.2,1092.3 583.2,1096.0 583.9,1096.0 583.9,1102.1 584.5,1102.1 584.5,1102.6 585.8,1102.6 585.8,1102.3 587.2,1102.3 587.2,1103.8 588.0,1103.8 588.0,1117.0 588.8,1117.0 589.7,1117.0 589.7,1114.6 591.0,1114.6 591.0,1109.2 592.1,1109.2 592.1,1102.1 593.6,1102.1 593.6,1100.7 594.9,1100.7 594.9,1101.1 595.4,1101.1 595.4,1103.0 596.2,1103.0 596.2,1107.2 597.5,1107.2 597.5,1114.9 597.9,1114.9 597.9,1116.1 598.8,1116.1 598.8,1111.4 600.4,1111.4 600.4,1103.8 601.4,1103.8 601.4,1102.2 602.7,1102.2 602.7,1101.5 603.7,1101.5 603.7,1099.7 605.3,1099.7 605.3,1097.2 606.6,1097.2 606.6,1094.7 607.0,1094.7 607.0,1092.3 607.9,1092.3 607.9,1092.8 609.2,1092.8 609.2,1090.2 610.5,1090.2 610.5,1093.0 611.1,1093.0 611.1,1091.4 612.3,1091.4 612.3,1113.7 613.5,1113.7 614.4,1113.7 614.4,1111.0 616.0,1111.0 616.0,1108.7 617.0,1108.7 617.0,1105.7 618.3,1105.7 618.3,1104.0 619.3,1104.0 619.3,1100.5 620.9,1100.5 620.9,1107.8 621.8,1107.8 621.8,1113.7 625.1,1093.1 626.1,1093.1 626.1,1092.0 627.5,1092.0 627.5,1093.1 628.7,1093.1 628.7,1101.1 629.2,1101.1 629.2,1102.1 630.0,1102.1 630.0,1099.9 631.3,1099.9 631.3,1094.5 632.5,1094.5 632.5,1091.4 633.9,1091.4 633.9,1100.9 635.2,1100.9 635.2,1105.6 635.8,1105.6 635.8,1108.7 636.6,1108.7 636.6,1087.3 637.4,1087.3 637.8,1087.3 637.8,1085.7 639.1,1085.7 639.1,1087.0 640.7,1087.0 640.7,1084.0 641.5,1084.0 641.5,1102.1 642.4,1102.1 644.8,1085.7 645.6,1085.7 645.6,1069.2 646.5,1069.2 646.9,1069.2 646.9,1021.0 647.3,1021.0 648.2,1021.0 648.2,1023.2 649.8,1023.2 649.8,1021.0 650.2,1021.0 650.2,1065.9 650.6,1065.9 651.5,1065.9 651.5,1092.3 652.3,1092.3 653.4,1092.3 653.4,1097.5 654.7,1097.5 654.7,1103.8 656.0,1103.8 656.0,1105.3 657.2,1105.3 657.2,1103.8 658.0,1103.8 658.0,1085.7 658.8,1085.7 659.2,1085.7 659.2,1067.9 659.7,1067.9 661.2,1067.9 661.2,1066.4 662.1,1066.4 662.1,1068.7 663.0,1068.7 663.0,1084.0 663.8,1084.0 665.1,1084.0 665.1,1077.1 666.3,1077.1 666.3,1072.5 667.5,1072.5 667.5,1095.6 668.7,1095.6 671.2,1075.8 673.7,1095.6 674.2,1095.6 674.2,1094.9 675.5,1094.9 675.5,1097.8 677.0,1097.8 677.0,1102.1 679.4,1118.6 680.7,1118.6 680.7,1118.4 682.0,1118.4 682.0,1119.4 683.3,1119.4 683.3,1116.4 684.6,1116.4 684.6,1118.0 685.2,1118.0 685.2,1116.1 685.9,1116.1 685.9,1116.2 687.2,1116.2 687.2,1116.1 688.5,1116.1 688.5,1119.0 690.1,1119.0 690.1,1118.6 691.1,1118.6 691.1,1116.4 692.4,1116.4 692.4,1117.9 693.4,1117.9 693.4,1117.0 695.0,1117.0 695.0,1113.3 696.3,1113.3 696.3,1112.0 696.7,1112.0 696.7,1112.0 697.6,1112.0 697.6,1111.1 698.9,1111.1 698.9,1112.4 700.0,1112.4 700.0,1114.5 701.5,1114.5 701.5,1115.9 702.8,1115.9 702.8,1117.0 704.1,1117.0 704.1,1115.9 705.0,1115.9 705.0,1117.8 705.4,1117.8 705.4,1114.6 706.7,1114.6 706.7,1112.6 708.0,1112.6 708.0,1110.8 709.1,1110.8 709.1,1107.1 710.6,1107.1 710.6,1112.7 711.6,1112.7 711.6,1117.8 713.2,1117.8 713.2,1118.1 714.5,1118.1 714.5,1116.2 715.7,1116.2 715.7,1115.3 717.1,1115.3 717.1,1112.0 718.4,1112.0 718.4,1111.8 719.7,1111.8 719.7,1111.0 721.0,1111.0 721.0,1110.0 722.3,1110.0 722.3,1107.9 723.6,1107.9 723.6,1111.8 724.7,1111.8 724.7,1117.8 726.2,1117.8 726.2,1115.7 727.5,1115.7 727.5,1113.6 728.8,1113.6 728.8,1112.2 729.7,1112.2 729.7,1112.0 730.1,1112.0 730.1,1113.8 731.4,1113.8 731.4,1110.3 732.7,1110.3 732.7,1110.8 734.0,1110.8 734.0,1109.3 734.6,1109.3 734.6,1109.6 735.3,1109.6 735.3,1106.0 736.6,1106.0 736.6,1101.9 737.1,1101.9 737.1,1098.0 737.5,1098.0 737.5,1087.7 737.9,1087.7 739.2,1087.7 739.2,1090.2 740.5,1090.2 740.5,1087.7 741.2,1087.7 741.2,1088.5 742.0,1088.5 742.0,1105.4 742.9,1105.4 744.4,1105.4 744.4,1109.8 745.7,1109.8 745.7,1110.5 746.2,1110.5 746.2,1112.9 747.0,1112.9 747.0,1109.5 748.3,1109.5 748.3,1111.5 749.5,1111.5 749.5,1107.9 750.9,1107.9 750.9,1111.4 752.2,1111.4 752.2,1111.6 753.5,1111.6 753.5,1115.6 754.4,1115.6 754.4,1115.3 754.8,1115.3 754.8,1114.3 756.1,1114.3 756.1,1110.4 757.7,1110.4 757.7,1108.7 758.7,1108.7 758.7,1110.4 760.0,1110.4 760.0,1112.0 761.3,1112.0 761.3,1116.2 762.6,1116.2 762.6,1115.1 763.3,1115.1 763.3,1118.2 763.9,1118.2 763.9,1117.5 765.2,1117.5 765.2,1113.8 765.8,1113.8 765.8,1113.2 766.5,1113.2 766.5,1112.9 767.8,1112.9 767.8,1110.7 769.1,1110.7 769.1,1111.6 770.7,1107.4 771.7,1107.4 771.7,1110.0 773.2,1110.0 773.2,1109.1 774.3,1109.1 774.3,1115.3 774.8,1115.3 774.8,1118.2 775.6,1118.2 775.6,1115.6 776.5,1115.6 776.5,1109.9 776.9,1109.9 776.9,1112.1 778.2,1112.1 778.2,1109.1 778.9,1109.1 778.9,1110.7 779.5,1110.7 779.5,1107.9 780.8,1107.9 780.8,1108.9 781.4,1108.9 781.4,1105.8 782.1,1105.8 782.1,1111.6 783.1,1111.6 783.1,1114.9 784.7,1114.9 784.7,1112.9 786.0,1112.9 786.0,1116.8 786.4,1116.8 786.4,1114.9 787.3,1114.9 787.3,1112.6 788.6,1112.6 788.6,1112.3 789.7,1112.3 789.7,1108.3 791.2,1108.3 791.2,1113.3 792.1,1113.3 792.1,1114.0 792.5,1114.0 792.5,1112.7 793.8,1112.7 793.8,1116.1 795.4,1116.1 795.4,1115.7 796.4,1115.7 796.4,1116.3 797.7,1116.3 797.7,1119.5 798.7,1119.5 798.7,1119.0 800.4,1110.7 801.6,1110.7 801.6,1110.7 802.9,1110.7 802.9,1112.8 803.7,1112.8 803.7,1114.0 804.2,1114.0 804.2,1113.8 805.5,1113.8 805.5,1112.6 807.0,1112.6 807.0,1112.4 808.1,1112.4 808.1,1107.2 809.4,1107.2 809.4,1104.4 810.2,1104.4 810.2,1100.4 810.7,1100.4 810.7,1102.1 812.0,1102.1 812.0,1098.4 812.7,1098.4 812.7,1100.4 813.3,1100.4 813.3,1104.0 814.4,1104.0 814.4,1109.9 815.9,1109.9 815.9,1108.2 817.2,1108.2 817.2,1112.1 817.7,1112.1 817.7,1110.7 818.5,1110.7 818.5,1105.9 820.1,1105.9 820.1,1101.2 821.1,1101.2 821.1,1102.3 822.4,1102.3 822.4,1103.8 823.4,1103.8 823.4,1104.2 825.1,1114.0 826.3,1114.0 826.3,1110.5 827.6,1110.5 827.6,1105.6 828.4,1105.6 828.4,1103.3 828.9,1103.3 828.9,1104.8 830.2,1104.8 830.2,1106.0 831.5,1106.0 831.5,1108.0 832.5,1108.0 832.5,1109.9 834.1,1109.9 834.1,1106.8 835.4,1106.8 835.4,1103.4 835.8,1103.4 835.8,1102.5 836.7,1102.5 836.7,1100.0 838.0,1100.0 838.0,1100.4 839.1,1100.4 839.1,1097.6 839.8,1097.6 839.8,1085.6 840.4,1085.6 841.9,1085.6 841.9,1085.4 843.2,1085.4 843.2,1085.6 844.0,1085.6 844.0,1108.3 844.8,1108.3 845.8,1108.3 845.8,1110.1 846.5,1110.1 846.5,1111.6 847.1,1111.6 847.1,1106.5 848.4,1106.5 848.4,1099.3 849.8,1099.3 849.8,1093.0 851.4,1105.0 852.3,1105.0 852.3,1103.2 853.9,1103.2 853.9,1105.0 854.9,1105.0 854.9,1100.9 856.4,1100.9 856.4,1094.6 858.8,1113.2 860.1,1113.2 860.1,1109.5 861.3,1109.5 861.3,1105.0 862.7,1105.0 862.7,1108.8 863.8,1108.8 863.8,1109.9 864.6,1109.9 864.6,1086.9 865.4,1086.9 865.8,1086.9 865.8,1058.8 866.3,1058.8 866.7,1058.8 866.7,1039.5 867.1,1039.5 867.9,1039.5 867.9,1040.7 868.7,1040.7 868.7,1039.5 870.1,1049.0 870.7,1049.0 870.7,1105.0 871.2,1105.0 871.8,1105.0 871.8,1105.1 872.4,1105.1 872.4,1105.0 872.8,1105.0 872.8,1073.7 873.3,1073.7 873.9,1073.7 873.9,1053.5 874.5,1053.5 875.7,1053.5 875.7,1051.5 876.6,1051.5 876.6,1053.5 877.2,1053.5 877.2,1067.1 877.8,1067.1 878.6,1067.1 878.6,1086.9 879.4,1086.9 880.9,1086.9 880.9,1080.1 881.9,1080.1 881.9,1076.5 883.5,1076.5 883.5,1074.9 884.4,1074.9 884.4,1076.5 884.8,1076.5 884.8,1079.4 886.0,1079.4 886.0,1081.9 886.9,1081.9 886.9,1101.7 887.7,1101.7 888.7,1101.7 888.7,1098.4 890.1,1098.4 890.1,1088.5 891.0,1088.5 891.0,1069.6 891.8,1069.6 892.6,1069.6 892.6,1069.9 893.9,1069.9 893.9,1065.5 894.3,1065.5 894.3,1066.3 894.8,1066.3 894.8,1049.0 895.4,1049.0 896.5,1049.0 896.5,1049.5 897.6,1049.5 897.6,1045.7 898.0,1045.7 898.0,1031.2 898.4,1031.2 899.1,1031.2 899.1,1031.2 900.4,1031.2 900.4,1033.2 900.9,1033.2 900.9,1031.2 901.7,1031.2 901.7,1037.8 902.5,1037.8 902.5,1040.7 902.9,1040.7 902.9,1075.3 903.3,1075.3 904.3,1075.3 904.3,1074.3 905.6,1074.3 905.6,1077.8 906.6,1077.8 906.6,1077.0 907.5,1077.0 907.5,1091.8 908.3,1091.8 909.5,1091.8 909.5,1113.2 910.7,1113.2 912.0,1113.2 912.0,1083.9 913.2,1083.9 914.9,1083.9 915.3,1083.9 915.3,1103.3 915.7,1103.3 917.3,1103.3 917.3,1108.7 918.2,1108.7 918.2,1109.9 918.6,1109.9 918.6,1108.5 919.9,1108.5 919.9,1112.2 921.2,1112.2 921.2,1110.0 922.5,1110.0 922.5,1112.8 923.1,1112.8 923.1,1111.6 923.8,1111.6 923.8,1107.9 925.1,1107.9 925.1,1105.6 926.4,1105.6 926.4,1101.7 928.0,1091.3 929.0,1091.3 929.0,1090.4 930.3,1090.4 930.3,1091.1 931.3,1091.1 931.3,1092.5 932.1,1092.5 932.1,1113.2 933.0,1113.2 934.2,1113.2 934.2,1108.8 935.5,1108.8 935.5,1103.1 936.3,1103.1 936.3,1100.9 936.8,1100.9 936.8,1098.9 938.1,1098.9 938.1,1099.5 939.4,1099.5 939.4,1099.4 940.7,1099.4 940.7,1102.8 941.2,1102.8 941.2,1100.9 941.9,1100.9 941.9,1047.3 942.5,1047.3 943.1,1047.3 943.1,971.1 943.7,971.1 944.6,971.1 944.6,971.9 945.3,971.9 945.3,971.1 945.8,971.1 945.8,984.7 946.2,984.7 946.6,984.7 946.6,1030.8 947.0,1030.8 947.4,1030.8 947.4,1083.6 947.8,1083.6 948.6,1083.6 948.6,1103.3 949.5,1103.3 951.1,1103.3 951.1,1108.7 952.0,1108.7 952.0,1114.0 952.4,1114.0 952.4,1115.0 953.7,1115.0 953.7,1111.0 955.2,1111.0 955.2,1111.6 956.3,1111.6 956.3,1107.8 957.7,1107.8 957.7,1101.7 958.9,1101.7 958.9,1103.3 960.0,1103.3 960.0,1101.7 961.5,1101.7 961.5,1107.5 962.7,1107.5 962.7,1111.5 964.1,1111.5 964.1,1106.0 965.4,1106.0 965.4,1106.4 966.7,1106.4 966.7,1101.4 967.3,1101.4 967.3,1099.2 968.6,1090.0 968.8,1045.0 969.8,1045.0 969.8,929.0 970.6,929.0 970.6,928.5 971.0,928.5 971.0,929.0 971.0,768.0 971.8,768.0 971.8,602.4 973.2,602.4 973.2,601.4 973.7,601.4 973.7,602.4 973.7,728.0 974.6,728.0 974.6,924.0 975.8,924.0 975.8,1065.5 977.1,1065.5 977.1,1065.8 977.7,1065.8 977.7,1065.5 977.7,1095.5 978.4,1095.5 978.4,1094.9 979.4,1094.9 979.4,1095.5 979.4,1109.0 981.0,1111.5 981.7,1107.0 981.7,1037.4 982.6,1037.4 982.6,942.6 983.6,942.6 983.9,881.5 985.0,881.5 985.2,939.7 986.3,939.7 986.3,1029.7 987.8,1029.7 987.8,1097.4 988.8,1100.0 990.1,1100.0 990.1,1104.7 991.4,1104.7 991.4,1105.3 991.8,1105.3 991.8,1108.4 992.7,1108.4 992.7,1109.4 994.0,1109.4 994.0,1106.2 995.3,1106.2 995.3,1107.3 996.6,1107.3 996.6,1108.1 998.0,1108.1 998.0,1105.3 999.2,1105.3 999.2,1108.5 1000.5,1108.5 1000.5,1109.6 1001.0,1109.6 1001.0,1111.5 1001.8,1111.5 1001.8,1105.6 1003.1,1105.6 1003.1,1099.6 1004.4,1099.6 1004.4,1094.1 1005.6,1094.1 1005.6,1090.0 1007.0,1090.0 1007.0,1098.0 1008.3,1098.0 1008.3,1106.1 1008.7,1106.1 1008.7,1108.4 1009.6,1108.4 1009.6,1106.5 1010.9,1106.5 1010.9,1097.8 1011.7,1097.8 1011.7,1096.1 1012.2,1096.1 1012.2,1095.9 1013.5,1095.9 1013.5,1100.4 1014.8,1100.4 1014.8,1100.2 1016.3,1100.2 1016.3,1105.3 1017.4,1105.3 1017.4,1106.1 1018.7,1106.1 1018.7,1106.8 1020.0,1106.8 1020.0,1109.7 1020.9,1109.7 1020.9,1111.5 1021.3,1111.5 1021.3,1108.7 1022.6,1108.7 1022.6,1105.0 1023.9,1105.0 1023.9,1099.7 1025.2,1099.7 1025.2,1092.8 1026.2,1092.8 1026.2,1090.0 1030.2,1117.6 1031.7,1117.6 1031.7,1113.7 1033.0,1113.7 1033.0,1108.9 1033.4,1108.9 1033.4,1109.5 1034.3,1109.5 1034.3,1113.2 1035.6,1113.2 1035.6,1112.8 1036.8,1112.8 1036.8,1116.4 1038.2,1116.4 1038.2,1111.8 1039.5,1111.8 1039.5,1111.5 1040.2,1111.5 1040.2,1109.5 1040.8,1109.5 1040.8,1110.0 1042.1,1110.0 1042.1,1107.0 1043.4,1107.0 1043.4,1102.8 1044.8,1102.8 1044.8,1100.5 1046.0,1100.5 1046.0,1104.0 1047.3,1104.0 1047.3,1112.8 1048.2,1112.8 1048.2,1116.4 1048.6,1116.4 1048.6,1115.7 1049.9,1115.7 1049.9,1111.7 1051.2,1111.7 1051.2,1110.0 1051.6,1110.0 1051.6,1108.4 1052.5,1108.4 1052.5,1107.0 1053.8,1107.0 1053.8,1107.5 1055.1,1107.5 1055.1,1105.0 1056.1,1105.0 1056.1,1102.7 1057.2,1102.7 1057.2,1070.9 1058.4,1070.9 1060.0,1060.7 1061.6,1060.7 1061.6,1062.5 1062.5,1062.5 1062.5,1060.7 1063.3,1060.7 1063.3,1102.7 1064.1,1102.7 1065.5,1102.7 1065.5,1100.5 1066.8,1100.5 1066.8,1097.8 1067.5,1097.8 1067.5,1097.0 1068.1,1097.0 1068.1,1097.9 1069.4,1097.9 1069.4,1101.4 1070.9,1101.4 1070.9,1108.4 1072.0,1108.4 1072.0,1106.3 1073.3,1106.3 1073.3,1108.6 1074.3,1108.6 1074.3,1108.4 1074.9,1108.4 1074.9,1048.2 1075.5,1048.2 1075.8,1048.2 1075.8,986.8 1076.1,986.8 1076.5,986.8 1076.5,951.7 1077.0,951.7 1078.5,951.7 1078.5,950.1 1079.3,950.1 1079.3,951.7 1079.7,951.7 1079.7,1000.5 1080.0,1000.5 1080.2,1000.5 1080.2,1077.7 1080.5,1077.7 1081.4,1077.7 1081.4,1116.4 1082.3,1116.4 1083.7,1116.4 1083.7,1116.9 1085.0,1116.9 1085.0,1116.4 1085.7,1116.4 1085.7,1116.4 1086.3,1116.4 1086.3,1114.6 1087.6,1114.6 1087.6,1110.3 1088.0,1110.3 1088.0,1107.3 1088.9,1107.3 1088.9,1104.5 1090.2,1104.5 1090.2,1103.1 1091.5,1103.1 1091.5,1101.1 1092.5,1101.1 1092.5,1100.5 1094.1,1100.5 1094.1,1107.5 1095.4,1107.5 1095.4,1111.4 1095.9,1111.4 1095.9,1111.8 1096.7,1111.8 1096.7,1108.5 1098.0,1108.5 1098.0,1098.4 1099.3,1098.4 1099.3,1093.6 1099.8,1093.6 1099.8,1060.0 1100.3,1060.0 1100.5,993.6 1101.6,993.6 1101.6,861.0 1102.5,861.0 1102.8,861.0 1102.8,836.0 1103.2,836.0 1104.5,836.0 1104.5,837.1 1105.2,837.1 1105.2,836.0 1105.2,933.0 1105.8,933.0 1105.8,932.8 1106.6,932.8 1106.6,933.0 1106.6,870.0 1107.4,870.0 1107.4,749.4 1108.3,749.4 1109.6,749.4 1109.7,891.0 1110.7,891.0 1110.7,1057.3 1112.0,1057.3 1112.5,1057.3 1112.5,1093.6 1113.0,1093.6 1113.6,1093.6 1113.6,1093.0 1115.2,1093.0 1115.2,1095.9 1117.5,1111.8 1118.8,1111.8 1118.8,1112.4 1120.1,1112.4 1120.1,1113.3 1120.9,1113.3 1120.9,1116.4 1121.4,1116.4 1121.4,1114.9 1122.7,1114.9 1122.7,1114.8 1124.0,1114.8 1124.0,1112.6 1125.5,1112.6 1125.5,1109.5 1126.6,1109.5 1126.6,1111.6 1127.9,1111.6 1127.9,1110.9 1129.2,1110.9 1129.2,1113.5 1130.0,1113.5 1130.0,1114.1 1130.5,1114.1 1130.5,1113.1 1131.8,1113.1 1131.8,1112.6 1133.1,1112.6 1133.1,1109.5 1134.5,1109.5 1134.5,1107.3 1135.7,1107.3 1135.7,1088.0 1136.8,1088.0 1137.9,1088.0 1137.9,1107.3 1139.1,1107.3 1139.6,1107.3 1139.6,1108.9 1140.9,1108.9 1140.9,1112.9 1141.4,1112.9 1141.4,1111.8 1143.6,1098.2 1144.8,1098.2 1144.8,1097.0 1145.9,1097.0 1145.9,1098.2"/>
<polyline fill="none" stroke="#d7282a" stroke-width="3.0" stroke-linejoin="miter" stroke-miterlimit="3" points="257.0,1586.4 258.3,1586.4 258.3,1587.6 259.6,1587.6 259.6,1583.2 260.5,1583.2 260.5,1585.0 260.9,1585.0 260.9,1584.8 262.5,1584.8 262.5,1589.1 263.5,1589.1 263.5,1590.2 264.8,1590.2 264.8,1591.1 266.1,1591.1 266.1,1590.2 267.4,1590.2 267.4,1588.3 268.6,1588.3 268.6,1589.1 269.1,1589.1 269.1,1578.2 269.7,1578.2 270.2,1578.2 270.2,1559.1 270.7,1559.1 271.1,1559.1 271.1,1544.1 271.6,1544.1 272.1,1544.1 272.1,1533.2 272.7,1533.2 273.0,1533.2 273.0,1441.8 273.4,1441.8 273.7,1441.8 273.7,1367.0 274.0,1367.0 274.3,1367.0 274.3,1276.0 274.6,1276.0 275.2,1276.0 275.2,1277.7 276.5,1277.7 276.5,1275.2 277.0,1275.2 277.0,1276.0 277.8,1276.0 277.8,1343.5 278.5,1343.5 278.7,1452.7 278.9,1570.0 279.2,1570.0 279.2,1489.6 279.5,1489.6 280.4,1489.6 280.4,1489.3 280.9,1489.3 280.9,1490.9 281.2,1490.9 281.2,1416.3 281.6,1416.3 283.0,1416.3 283.0,1416.9 284.3,1416.9 284.3,1416.3 284.5,1416.3 284.5,1430.9 284.7,1430.9 285.2,1430.9 285.2,1471.8 285.7,1471.8 286.0,1471.8 286.0,1514.1 286.4,1514.1 287.0,1514.1 287.0,1548.2 287.7,1548.2 288.4,1548.2 288.4,1580.9 289.1,1580.9 289.5,1580.9 289.5,1583.7 290.5,1583.7 290.5,1587.7 291.8,1579.6 293.4,1579.6 293.4,1585.8 293.9,1585.8 293.9,1585.0 294.7,1585.0 294.7,1587.1 295.9,1587.1 295.9,1590.5 296.6,1590.5 296.6,1572.7 297.3,1572.7 298.6,1572.7 298.6,1571.6 300.0,1571.6 300.0,1568.6 301.2,1568.6 301.2,1568.3 302.5,1568.3 302.5,1569.6 304.1,1569.6 304.1,1568.6 305.5,1579.6 306.4,1579.6 306.4,1578.4 307.7,1578.4 307.7,1577.6 309.0,1577.6 309.0,1578.9 309.5,1578.9 309.5,1578.2 310.9,1568.6 311.6,1568.6 311.6,1566.4 312.9,1566.4 312.9,1569.4 313.6,1569.4 313.6,1567.3 314.2,1567.3 314.2,1564.6 315.7,1564.6 315.7,1563.2 316.8,1563.2 316.8,1564.4 317.7,1564.4 317.7,1568.6 318.1,1568.6 318.1,1571.3 319.4,1571.3 319.4,1571.2 319.8,1571.2 319.8,1572.7 320.7,1572.7 320.7,1574.0 322.0,1574.0 322.0,1577.7 323.2,1577.7 323.2,1583.6 324.6,1583.6 324.6,1576.8 325.2,1576.8 325.2,1572.7 326.6,1561.8 327.2,1561.8 327.2,1562.4 328.5,1562.4 328.5,1562.7 330.0,1562.7 330.0,1561.8 331.1,1561.8 331.1,1563.5 332.1,1563.5 332.1,1568.6 333.7,1568.6 333.7,1575.3 334.8,1575.3 334.8,1580.9 336.3,1580.9 336.3,1579.2 336.8,1579.2 336.8,1576.8 337.4,1576.8 337.4,1523.6 337.9,1523.6 338.4,1523.6 338.4,1482.7 338.9,1482.7 339.2,1482.7 339.2,1441.7 339.5,1441.7 340.2,1441.7 340.2,1443.4 341.6,1443.4 341.6,1441.7 342.0,1441.7 342.0,1504.6 342.3,1504.6 343.0,1504.6 343.0,1548.2 343.6,1548.2 344.3,1548.2 344.3,1568.6 345.0,1568.6 345.4,1568.6 345.4,1572.4 347.0,1572.4 347.0,1579.6 348.0,1579.6 348.0,1583.5 349.1,1583.5 349.1,1583.6 350.6,1583.6 350.6,1586.4 351.1,1586.4 351.1,1589.1 351.9,1589.1 351.9,1582.7 353.2,1582.7 353.2,1576.8 354.5,1576.8 354.5,1577.0 355.9,1577.0 355.9,1574.1 357.3,1580.9 358.4,1580.9 358.4,1583.6 360.0,1583.6 360.0,1584.0 361.0,1584.0 361.0,1585.4 362.5,1585.4 362.5,1589.8 363.6,1589.8 363.6,1587.2 364.9,1587.2 364.9,1589.1 365.8,1589.1 365.8,1587.3 366.6,1587.3 366.6,1570.8 367.4,1570.8 368.2,1570.8 368.2,1552.7 369.1,1552.7 369.5,1552.7 369.5,1526.7 369.9,1526.7 371.4,1526.7 371.4,1525.9 371.9,1525.9 371.9,1526.7 372.9,1532.1 373.4,1532.1 373.4,1565.9 374.0,1565.9 374.9,1565.9 374.9,1584.0 375.7,1584.0 376.6,1584.0 376.6,1583.7 377.3,1583.7 377.3,1584.0 377.7,1584.0 377.7,1550.6 378.1,1550.6 379.2,1550.6 379.2,1548.5 380.5,1548.5 380.5,1549.5 381.4,1549.5 381.4,1550.6 382.2,1550.6 382.2,1574.1 383.1,1574.1 384.7,1582.4 385.7,1582.4 385.7,1584.8 387.2,1584.8 387.2,1589.8 388.3,1589.8 388.3,1590.0 389.7,1590.0 389.7,1585.7 390.9,1585.7 390.9,1581.4 392.1,1581.4 392.1,1574.1 393.5,1574.1 393.5,1572.5 394.6,1572.5 394.6,1575.0 396.1,1575.0 396.1,1579.2 397.1,1579.2 397.1,1582.4 398.7,1589.8 400.0,1589.8 400.0,1585.7 400.4,1585.7 400.4,1583.2 401.3,1583.2 401.3,1584.3 402.8,1584.3 402.8,1585.7 403.9,1585.7 403.9,1585.1 405.2,1585.1 405.2,1579.1 406.1,1579.1 406.1,1579.1 406.5,1579.1 406.5,1582.2 407.8,1582.2 407.8,1584.9 408.6,1584.9 408.6,1589.8 409.1,1589.8 409.1,1586.8 410.4,1586.8 410.4,1585.5 411.1,1585.5 411.1,1585.7 411.7,1585.7 411.7,1586.9 413.0,1586.9 413.0,1587.8 414.4,1587.8 414.4,1585.7 415.6,1585.7 415.6,1587.2 416.9,1587.2 416.9,1588.8 417.7,1588.8 417.7,1589.8 418.2,1589.8 418.2,1590.2 419.5,1590.2 419.5,1585.2 420.8,1585.2 420.8,1584.2 421.8,1584.2 421.8,1582.4 423.4,1582.4 423.4,1578.7 424.7,1578.7 424.7,1571.9 425.1,1571.9 425.1,1571.7 426.0,1571.7 426.0,1575.8 427.5,1575.8 427.5,1577.4 428.6,1577.4 428.6,1579.8 430.0,1579.8 430.0,1585.7 431.2,1585.7 431.2,1588.0 432.5,1588.0 432.5,1590.6 433.8,1590.6 433.8,1587.3 435.1,1587.3 435.1,1581.0 435.8,1581.0 435.8,1580.7 436.4,1580.7 436.4,1581.5 437.7,1581.5 437.7,1579.9 439.0,1579.9 439.0,1579.2 440.3,1579.2 440.3,1577.4 441.5,1577.4 441.5,1575.8 442.9,1575.8 442.9,1579.5 444.0,1579.5 444.0,1583.2 445.5,1583.2 445.5,1582.2 446.8,1582.2 446.8,1576.3 448.1,1576.3 448.1,1577.4 449.0,1577.4 449.0,1574.1 449.4,1574.1 449.4,1573.1 450.7,1573.1 450.7,1577.5 452.3,1577.5 452.3,1583.2 453.3,1583.2 453.3,1585.6 454.6,1585.6 454.6,1584.6 455.9,1584.6 455.9,1584.9 456.4,1584.9 456.4,1585.7 457.2,1585.7 457.2,1587.4 458.8,1587.4 458.8,1585.7 459.8,1585.7 459.8,1587.8 461.3,1587.8 461.3,1591.4 462.4,1591.4 462.4,1592.3 463.7,1592.3 463.7,1592.0 465.0,1592.0 465.0,1591.3 465.4,1591.3 465.4,1590.6 466.3,1590.6 466.3,1589.3 467.6,1589.3 467.6,1588.2 468.7,1588.2 468.7,1588.1 470.2,1588.1 470.2,1590.1 471.5,1590.1 471.5,1589.8 472.8,1589.8 472.8,1590.6 473.7,1590.6 473.7,1589.8 474.1,1589.8 474.1,1588.0 475.4,1588.0 475.4,1588.2 477.0,1588.2 477.0,1587.3 478.0,1587.3 478.0,1587.0 479.3,1587.0 479.3,1584.3 480.6,1584.3 480.6,1584.9 481.1,1584.9 481.1,1584.8 481.9,1584.8 481.9,1588.9 483.2,1588.9 483.2,1589.9 483.6,1589.9 483.6,1592.3 484.5,1592.3 484.5,1590.8 485.8,1590.8 485.8,1591.1 487.1,1591.1 487.1,1592.7 488.4,1592.7 488.4,1593.1 489.7,1593.1 489.7,1589.9 490.1,1589.9 490.1,1591.4 491.0,1591.4 491.0,1590.0 492.3,1590.0 492.3,1590.6 493.6,1590.6 493.6,1591.1 494.9,1591.1 494.9,1592.2 496.2,1592.2 496.2,1590.7 496.7,1590.7 496.7,1592.3 497.5,1592.3 497.5,1590.7 498.8,1590.7 498.8,1588.8 500.1,1588.8 500.1,1591.0 501.7,1591.0 501.7,1587.3 502.7,1587.3 502.7,1584.0 504.0,1584.0 504.0,1585.7 505.3,1585.7 505.3,1579.9 506.6,1579.9 506.6,1579.1 507.4,1579.1 507.4,1578.3 507.9,1578.3 507.9,1582.8 509.1,1582.8 509.1,1586.5 510.5,1586.5 510.5,1587.3 511.8,1587.3 511.8,1585.8 513.1,1585.8 513.1,1584.6 514.4,1584.6 514.4,1586.4 514.9,1586.4 514.9,1585.7 515.7,1585.7 515.7,1583.0 517.0,1583.0 517.0,1581.7 518.2,1581.7 518.2,1581.5 519.6,1581.5 519.6,1579.4 520.9,1579.4 520.9,1581.1 521.4,1581.1 521.4,1581.5 522.2,1581.5 522.2,1585.4 523.5,1585.4 523.5,1589.2 524.7,1589.2 524.7,1592.3 526.1,1592.3 526.1,1588.3 527.4,1588.3 527.4,1583.3 528.0,1583.3 528.0,1581.5 528.7,1581.5 528.7,1579.2 530.0,1579.2 530.0,1580.0 531.3,1580.0 531.3,1577.8 532.6,1577.8 532.6,1578.1 533.0,1578.1 533.0,1576.6 533.9,1576.6 533.9,1578.2 535.2,1578.2 535.2,1575.9 536.5,1575.9 536.5,1576.2 537.1,1576.2 537.1,1575.8 537.8,1575.8 537.8,1578.3 539.1,1578.3 539.1,1579.5 540.4,1579.5 540.4,1582.4 541.7,1582.4 541.7,1583.0 543.0,1583.0 543.0,1583.4 543.7,1583.4 543.7,1581.5 544.3,1581.5 544.3,1584.0 545.6,1584.0 545.6,1586.6 546.9,1586.6 546.9,1590.2 547.8,1590.2 547.8,1590.6 548.2,1590.6 548.2,1590.8 549.5,1590.8 549.5,1588.7 550.8,1588.7 550.8,1585.9 552.1,1585.9 552.1,1583.3 552.7,1583.3 552.7,1583.2 553.4,1583.2 553.4,1583.5 554.7,1583.5 554.7,1580.8 556.0,1580.8 556.0,1581.7 557.3,1581.7 557.3,1582.9 557.7,1582.9 557.7,1581.5 558.6,1581.5 558.6,1583.1 560.0,1583.1 560.0,1583.2 561.2,1583.2 561.2,1583.6 562.5,1583.6 562.5,1586.0 564.1,1586.0 564.1,1588.3 565.1,1588.3 565.1,1587.1 566.4,1587.1 566.4,1583.9 567.4,1583.9 567.4,1582.5 569.0,1582.5 569.0,1587.5 569.9,1587.5 569.9,1587.4 570.3,1587.4 570.3,1586.7 571.6,1586.7 571.6,1590.9 572.4,1590.9 572.4,1591.6 572.9,1591.6 572.9,1591.4 574.2,1591.4 574.2,1586.2 574.8,1586.2 574.8,1585.0 575.5,1585.0 575.5,1583.0 576.8,1583.0 576.8,1581.6 578.1,1581.6 578.1,1575.9 579.4,1575.9 579.4,1578.2 580.6,1578.2 580.6,1580.0 582.0,1580.0 582.0,1581.2 583.1,1581.2 583.1,1580.0 584.6,1580.0 584.6,1584.7 585.5,1584.7 585.5,1587.4 585.9,1587.4 585.9,1585.9 587.2,1585.9 587.2,1588.6 588.8,1588.6 588.8,1589.1 589.8,1589.1 589.8,1590.8 591.1,1590.8 591.1,1590.9 592.1,1590.9 592.1,1591.6 593.7,1591.6 593.7,1591.1 595.0,1591.1 595.0,1588.2 596.2,1588.2 596.2,1586.6 597.6,1586.6 597.6,1589.3 598.9,1589.3 598.9,1586.7 599.5,1586.7 599.5,1588.3 600.2,1588.3 600.2,1589.5 601.5,1589.5 601.5,1588.8 602.8,1588.8 602.8,1589.9 604.1,1589.9 604.1,1586.9 605.4,1586.9 605.4,1589.4 606.1,1589.4 606.1,1586.6 606.7,1586.6 606.7,1582.8 608.0,1582.8 608.0,1574.6 608.6,1574.6 608.6,1573.4 609.3,1573.4 609.3,1572.9 610.6,1572.9 610.6,1574.3 611.1,1574.3 611.1,1575.1 612.7,1586.6 613.2,1586.6 613.2,1585.0 614.5,1585.0 614.5,1588.0 615.8,1588.0 615.8,1589.4 616.8,1589.4 616.8,1590.7 618.4,1590.7 618.4,1582.7 619.3,1582.7 619.3,1579.2 619.7,1579.2 619.7,1579.0 621.0,1579.0 621.0,1581.4 621.8,1581.4 621.8,1584.2 622.3,1584.2 622.3,1585.0 623.6,1585.0 623.6,1585.2 625.1,1585.2 625.1,1582.5 627.5,1566.4 628.8,1566.4 628.8,1566.8 629.2,1566.8 629.2,1568.5 629.6,1568.5 629.6,1584.2 630.0,1584.2 631.4,1584.2 631.4,1585.5 632.5,1585.5 632.5,1587.4 634.0,1587.4 634.0,1586.3 635.3,1586.3 635.3,1589.6 636.6,1589.6 636.6,1590.2 637.4,1590.2 637.4,1589.1 637.9,1589.1 637.9,1588.7 639.2,1588.7 639.2,1585.4 640.7,1585.4 640.7,1582.5 641.8,1582.5 641.8,1582.9 643.1,1582.9 643.1,1588.1 644.0,1588.1 644.0,1587.4 644.4,1587.4 644.4,1586.8 645.7,1586.8 645.7,1588.0 646.5,1588.0 646.5,1587.4 647.3,1587.4 647.3,1557.0 648.1,1557.0 648.5,1557.0 648.5,1496.0 649.0,1496.0 649.4,1496.0 649.4,1451.9 649.8,1451.9 650.9,1451.9 650.9,1453.3 652.3,1453.3 652.3,1451.9 652.5,1451.9 652.5,1504.3 652.6,1504.3 653.2,1504.3 653.2,1522.4 653.9,1522.4 654.3,1522.4 654.3,1571.8 654.7,1571.8 656.1,1571.8 656.1,1578.3 657.2,1578.3 657.2,1585.0 658.8,1590.7 659.6,1590.7 659.6,1566.9 660.5,1566.9 661.1,1566.9 661.1,1545.4 661.8,1545.4 662.4,1545.4 662.4,1520.3 663.0,1520.3 663.9,1520.3 663.9,1521.8 664.6,1521.8 664.6,1520.3 665.0,1520.3 665.0,1566.9 665.4,1566.9 666.5,1566.9 666.5,1569.4 667.1,1569.4 667.1,1571.8 667.8,1571.8 667.8,1574.7 669.1,1574.7 669.1,1574.7 669.6,1574.7 669.6,1576.7 670.4,1576.7 670.4,1580.8 672.0,1580.8 672.0,1590.7 673.0,1590.7 673.0,1587.6 674.3,1587.6 674.3,1583.0 675.3,1583.0 675.3,1581.7 676.9,1581.7 676.9,1581.9 678.2,1581.9 678.2,1579.2 678.6,1579.2 678.6,1580.0 679.5,1580.0 679.5,1581.1 680.8,1581.1 680.8,1584.7 681.9,1584.7 681.9,1588.3 683.4,1588.3 683.4,1586.5 684.7,1586.5 684.7,1586.1 685.2,1586.1 685.2,1585.0 686.0,1585.0 686.0,1586.5 687.3,1586.5 687.3,1586.5 688.5,1586.5 688.5,1588.3 689.9,1588.3 689.9,1590.7 691.2,1590.7 691.2,1587.9 692.6,1587.9 692.6,1590.7 693.8,1590.7 693.8,1590.3 695.1,1590.3 695.1,1587.4 696.7,1587.4 696.7,1583.3 697.7,1583.3 697.7,1583.4 699.2,1583.4 699.2,1580.0 700.3,1580.0 700.3,1582.6 701.7,1582.6 701.7,1590.7 702.9,1590.7 702.9,1592.5 704.2,1592.5 704.2,1591.0 705.5,1591.0 705.5,1589.0 706.6,1589.0 706.6,1589.9 708.1,1589.9 708.1,1585.6 709.4,1585.6 709.4,1583.7 710.7,1583.7 710.7,1582.5 712.0,1582.5 712.0,1582.2 713.2,1582.2 713.2,1583.3 714.6,1583.3 714.6,1588.3 715.7,1588.3 715.7,1589.1 717.2,1589.1 717.2,1586.4 718.5,1586.4 718.5,1588.6 719.8,1588.6 719.8,1585.8 721.1,1585.8 721.1,1587.2 722.4,1587.2 722.4,1587.0 723.7,1587.0 723.7,1588.2 724.7,1588.2 724.7,1586.6 726.3,1586.6 726.3,1589.3 727.6,1589.3 727.6,1587.5 728.0,1587.5 728.0,1589.1 728.9,1589.1 728.9,1586.6 730.2,1586.6 730.2,1581.0 731.3,1581.0 731.3,1576.7 732.1,1576.7 732.1,1591.6 733.0,1591.6 734.1,1591.6 734.1,1587.7 735.4,1587.7 735.4,1580.5 736.3,1580.5 736.3,1576.7 737.1,1576.7 737.1,1545.4 737.9,1545.4 738.8,1545.4 738.8,1513.7 739.6,1513.7 740.6,1513.7 740.6,1515.4 742.0,1515.4 742.0,1513.7 742.5,1513.7 742.5,1533.9 742.9,1533.9 743.7,1533.9 743.7,1561.9 744.5,1561.9 746.2,1575.1 747.0,1575.1 747.0,1588.3 747.8,1588.3 748.4,1588.3 748.4,1586.5 749.7,1586.5 749.7,1584.6 750.3,1584.6 750.3,1585.0 751.5,1585.0 751.5,1564.8 752.7,1564.8 753.6,1564.8 753.6,1563.2 755.2,1563.2 755.2,1564.8 756.0,1564.8 756.0,1586.6 756.9,1586.6 757.5,1586.6 757.5,1584.3 758.8,1584.3 758.8,1585.5 760.0,1585.5 760.0,1585.0 761.4,1585.0 761.4,1586.0 762.7,1586.0 762.7,1587.0 763.3,1587.0 763.3,1587.4 764.0,1587.4 764.0,1588.0 765.3,1588.0 765.3,1590.2 766.6,1590.2 766.6,1587.2 767.4,1587.2 767.4,1589.9 767.9,1589.9 767.9,1588.8 769.2,1588.8 769.2,1580.3 769.9,1580.3 769.9,1576.7 770.5,1576.7 770.5,1575.5 771.8,1575.5 771.8,1572.7 772.9,1572.7 772.9,1569.3 775.7,1588.3 777.0,1588.3 777.0,1590.7 778.1,1590.7 778.1,1589.9 779.6,1589.9 779.6,1583.1 780.6,1583.1 780.6,1579.2 782.2,1579.2 782.2,1577.1 783.5,1577.1 783.5,1579.3 784.8,1579.3 784.8,1579.1 785.5,1579.1 785.5,1578.4 786.1,1578.4 786.1,1579.2 787.2,1579.2 787.2,1586.6 788.8,1575.9 790.0,1575.9 790.0,1576.4 791.3,1576.4 791.3,1576.7 792.9,1576.7 792.9,1575.9 793.9,1575.9 793.9,1577.8 795.4,1577.8 795.4,1582.5 796.5,1582.5 796.5,1582.5 797.8,1582.5 797.8,1582.4 799.1,1582.4 799.1,1584.2 799.5,1584.2 799.5,1582.5 800.4,1582.5 800.4,1582.2 802.0,1582.2 802.0,1587.4 804.2,1573.4 805.6,1573.4 805.6,1572.1 806.9,1572.1 806.9,1573.8 807.8,1573.8 807.8,1571.8 808.2,1571.8 808.2,1570.0 809.5,1570.0 809.5,1566.7 810.2,1566.7 810.2,1564.8 810.8,1564.8 810.8,1565.0 812.1,1565.0 812.1,1566.3 812.7,1566.3 812.7,1565.2 813.5,1565.2 813.5,1580.0 814.4,1580.0 816.0,1580.0 816.0,1580.8 816.8,1580.8 816.8,1581.7 817.3,1581.7 817.3,1583.0 818.6,1583.0 818.6,1587.8 819.3,1587.8 819.3,1589.9 820.5,1589.9 820.5,1554.9 821.8,1554.9 822.5,1554.9 822.5,1556.3 823.8,1556.3 823.8,1554.0 824.3,1554.0 824.3,1554.9 825.1,1554.9 825.1,1570.1 825.9,1570.1 826.7,1570.1 826.7,1585.0 827.5,1585.0 828.4,1585.0 828.4,1570.1 829.2,1570.1 830.3,1570.1 830.3,1572.7 830.8,1572.7 830.8,1571.8 831.6,1571.8 831.6,1585.8 832.5,1585.8 832.9,1585.8 832.9,1584.0 834.2,1584.0 834.2,1579.9 835.8,1579.9 835.8,1574.3 836.8,1574.3 836.8,1575.1 838.1,1575.1 838.1,1578.1 839.1,1578.1 839.1,1576.7 840.7,1576.7 840.7,1582.0 842.0,1582.0 842.0,1583.2 842.4,1583.2 842.4,1585.0 843.3,1585.0 843.3,1579.5 844.0,1579.5 844.0,1576.7 844.6,1576.7 844.6,1577.3 845.9,1577.3 845.9,1581.7 847.2,1581.7 847.2,1585.0 848.1,1585.0 848.1,1586.6 848.5,1586.6 848.5,1586.9 849.8,1586.9 849.8,1580.6 851.1,1580.6 851.1,1580.5 852.3,1580.5 852.3,1576.7 853.7,1576.7 853.7,1577.6 855.0,1577.6 855.0,1576.1 855.6,1576.1 855.6,1578.4 856.3,1578.4 856.3,1579.0 857.6,1579.0 857.6,1580.4 858.8,1580.4 858.8,1585.0 860.2,1585.0 860.2,1585.5 861.5,1585.5 861.5,1582.8 862.1,1582.8 862.1,1581.7 862.8,1581.7 862.8,1584.1 864.1,1584.1 864.1,1587.9 865.4,1587.9 865.4,1589.9 866.6,1589.9 866.6,1542.1 867.9,1542.1 868.8,1542.1 868.8,1517.8 869.6,1517.8 870.6,1517.8 870.6,1518.3 871.2,1518.3 871.2,1517.8 871.6,1517.8 871.6,1573.4 872.0,1573.4 873.2,1573.4 873.2,1573.9 873.7,1573.9 873.7,1573.4 874.1,1573.4 874.1,1535.9 874.5,1535.9 875.8,1535.9 875.8,1536.5 877.0,1536.5 877.0,1535.9 877.4,1535.9 877.4,1560.3 877.8,1560.3 878.4,1560.3 878.4,1560.9 879.7,1560.9 879.7,1559.7 881.1,1559.7 881.1,1558.6 881.9,1558.6 881.9,1576.7 882.7,1576.7 885.2,1560.3 886.2,1560.3 886.2,1563.9 886.9,1563.9 886.9,1568.5 888.5,1580.0 890.1,1580.0 890.1,1574.6 891.4,1574.6 891.4,1571.8 891.8,1571.8 891.8,1569.3 893.4,1558.6 895.1,1570.1 897.6,1553.7 898.4,1553.7 898.4,1530.6 899.2,1530.6 900.5,1530.6 900.5,1524.1 900.9,1524.1 900.9,1524.4 901.8,1524.4 901.8,1523.0 903.0,1523.0 903.0,1524.4 903.4,1524.4 903.4,1545.4 903.7,1545.4 904.4,1545.4 904.4,1571.8 905.0,1571.8 905.8,1571.8 905.8,1554.9 906.6,1554.9 907.0,1554.9 907.0,1552.9 908.3,1552.9 908.3,1556.1 909.9,1556.1 909.9,1554.9 910.3,1554.9 910.3,1575.1 910.7,1575.1 912.2,1575.1 912.2,1566.6 913.2,1566.6 913.2,1561.9 914.0,1561.9 914.0,1545.8 914.9,1545.8 916.1,1545.8 916.1,1547.2 917.3,1547.2 917.3,1545.8 917.8,1545.8 917.8,1568.5 918.2,1568.5 918.7,1568.5 918.7,1571.8 920.0,1571.8 920.0,1576.2 920.6,1576.2 920.6,1578.4 921.3,1578.4 921.3,1577.7 922.6,1577.7 922.6,1578.5 923.9,1578.5 923.9,1580.0 924.8,1580.0 924.8,1563.9 925.6,1563.9 926.5,1563.9 926.5,1563.4 928.0,1563.4 928.0,1564.8 929.7,1576.7 930.4,1576.7 930.4,1574.1 931.7,1574.1 931.7,1569.4 932.2,1569.4 932.2,1565.2 933.0,1565.2 933.0,1585.0 933.8,1585.0 934.3,1585.0 934.3,1581.6 935.6,1581.6 935.6,1580.2 936.9,1580.2 936.9,1574.2 937.9,1574.2 937.9,1573.4 940.4,1589.9 941.6,1589.9 941.6,1555.3 942.9,1555.3 943.7,1555.3 943.7,1509.6 944.5,1509.6 946.0,1509.6 946.0,1511.0 947.5,1511.0 947.5,1509.6 947.8,1532.3 948.2,1532.3 948.2,1558.6 948.6,1558.6 949.5,1558.6 949.5,1580.0 950.3,1580.0 951.2,1580.0 951.2,1584.5 952.5,1584.5 952.5,1586.4 953.6,1586.4 953.6,1589.9 955.1,1589.9 955.1,1590.2 956.4,1590.2 956.4,1591.7 956.9,1591.7 956.9,1591.6 957.7,1591.6 957.7,1591.8 959.0,1591.8 959.0,1589.2 960.0,1589.2 960.0,1585.0 961.4,1584.0 962.9,1584.0 962.9,1585.2 963.8,1585.2 963.8,1588.8 964.2,1588.8 964.2,1589.4 965.5,1589.4 965.5,1587.5 966.8,1587.5 966.8,1587.3 967.8,1587.3 967.8,1588.8 969.4,1588.8 969.4,1585.1 970.3,1585.1 970.3,1586.4 970.7,1586.4 970.7,1576.0 971.1,1576.0 971.5,1576.0 971.5,1529.4 971.9,1529.4 972.3,1529.4 972.3,1442.6 972.7,1442.6 973.4,1442.6 973.4,1395.7 974.0,1395.7 974.6,1395.7 974.6,1396.5 975.9,1396.5 975.9,1394.0 976.4,1394.0 976.4,1395.7 976.5,1395.7 976.5,1431.4 976.7,1431.4 977.1,1431.4 977.1,1531.0 977.5,1531.0 978.1,1531.0 978.1,1579.2 978.8,1579.2 979.3,1579.2 979.3,1589.6 979.9,1589.6 981.1,1589.6 981.1,1591.7 982.4,1591.7 982.4,1587.8 983.9,1587.8 983.9,1589.6 984.3,1589.6 984.3,1548.6 984.7,1548.6 985.1,1548.6 985.1,1469.9 985.5,1469.9 985.9,1469.9 985.9,1420.6 986.3,1420.6 987.6,1420.6 987.6,1419.0 988.2,1419.0 988.2,1420.6 988.5,1420.6 988.5,1458.7 988.7,1458.7 989.1,1458.7 989.1,1537.4 989.5,1537.4 990.1,1537.4 990.1,1585.6 990.7,1585.6 991.5,1585.6 991.5,1584.8 992.8,1584.8 992.8,1590.2 993.5,1590.2 993.5,1590.4 994.1,1590.4 994.1,1589.1 995.4,1589.1 995.4,1590.8 996.7,1590.8 996.7,1588.0 998.0,1588.0 998.0,1587.0 998.4,1587.0 998.4,1588.8 999.3,1588.8 999.3,1590.3 1000.6,1590.3 1000.6,1590.5 1001.9,1590.5 1001.9,1591.5 1003.2,1591.5 1003.2,1590.4 1004.5,1590.4 1004.5,1584.0 1005.8,1584.0 1005.8,1581.9 1006.4,1581.9 1006.4,1579.2 1007.1,1579.2 1007.1,1580.1 1008.4,1580.1 1008.4,1579.0 1008.8,1579.0 1008.8,1579.2 1009.7,1579.2 1009.7,1585.3 1011.2,1585.3 1011.2,1590.4 1012.3,1590.4 1012.3,1589.1 1013.6,1589.1 1013.6,1584.2 1014.4,1584.2 1014.4,1580.8 1014.9,1580.8 1014.9,1579.1 1016.2,1579.1 1016.2,1580.1 1017.5,1580.1 1017.5,1583.9 1018.4,1583.9 1018.4,1584.0 1018.8,1584.0 1018.8,1585.7 1020.1,1585.7 1020.1,1583.6 1021.4,1583.6 1021.4,1585.7 1022.7,1585.7 1022.7,1588.6 1024.1,1588.6 1024.1,1588.8 1025.3,1588.8 1025.3,1590.4 1026.6,1590.4 1026.6,1588.7 1027.9,1588.7 1027.9,1586.9 1028.9,1586.9 1028.9,1588.8 1030.5,1588.8 1030.5,1589.1 1031.8,1589.1 1031.8,1588.5 1033.1,1588.5 1033.1,1589.6 1034.4,1589.6 1034.4,1587.2 1035.3,1587.2 1035.3,1588.8 1035.7,1588.8 1035.7,1589.5 1037.0,1589.5 1037.0,1585.6 1038.5,1585.6 1038.5,1584.0 1039.6,1584.0 1039.6,1584.4 1040.9,1584.4 1040.9,1583.2 1042.5,1583.2 1042.5,1583.2 1043.5,1583.2 1043.5,1586.7 1045.0,1586.7 1045.0,1588.8 1047.4,1571.5 1048.7,1571.5 1048.7,1572.8 1050.0,1572.8 1050.0,1571.8 1050.6,1571.8 1050.6,1571.5 1051.4,1571.5 1051.4,1588.8 1052.2,1588.8 1052.6,1588.8 1052.6,1586.6 1053.9,1586.6 1053.9,1581.2 1054.6,1581.2 1054.6,1580.8 1055.2,1580.8 1055.2,1582.9 1056.5,1582.9 1056.5,1581.7 1057.8,1581.7 1057.8,1580.8 1059.1,1580.8 1059.1,1578.1 1060.4,1578.1 1060.4,1577.4 1061.0,1577.4 1061.0,1576.0 1061.7,1576.0 1061.7,1575.1 1062.6,1575.1 1062.6,1569.1 1063.0,1569.1 1063.0,1570.6 1064.3,1570.6 1064.3,1569.5 1065.0,1569.5 1065.0,1569.1 1065.4,1569.1 1065.4,1579.2 1065.8,1579.2 1066.9,1579.2 1066.9,1583.1 1068.2,1583.1 1068.2,1589.6 1069.5,1589.6 1069.5,1589.1 1070.6,1589.1 1070.6,1585.6 1072.1,1585.6 1072.1,1586.1 1073.4,1586.1 1073.4,1585.5 1074.7,1585.5 1074.7,1584.8 1076.0,1584.8 1076.0,1585.8 1077.3,1585.8 1077.3,1583.2 1077.9,1583.2 1077.9,1584.0 1078.7,1584.0 1078.7,1566.3 1079.5,1566.3 1079.9,1566.3 1079.9,1534.2 1080.3,1534.2 1080.7,1534.2 1080.7,1522.5 1081.1,1522.5 1082.5,1522.5 1082.5,1521.5 1083.0,1521.5 1083.0,1522.5 1083.2,1522.5 1083.2,1561.5 1083.5,1561.5 1083.9,1561.5 1083.9,1570.3 1084.3,1570.3 1085.1,1570.3 1085.1,1588.8 1085.9,1588.8 1086.4,1588.8 1086.4,1589.1 1087.7,1589.1 1087.7,1591.6 1088.3,1591.6 1088.3,1592.0 1089.0,1592.0 1089.0,1591.6 1090.3,1591.6 1090.3,1588.7 1091.5,1588.7 1091.5,1584.0 1092.9,1584.0 1092.9,1584.1 1094.2,1584.1 1094.2,1582.7 1094.7,1582.7 1094.7,1580.8 1095.5,1580.8 1095.5,1584.4 1096.3,1584.4 1096.3,1584.8 1096.8,1584.8 1096.8,1586.0 1098.1,1586.0 1098.1,1586.9 1099.6,1586.9 1099.6,1590.4 1100.7,1590.4 1100.7,1586.2 1102.0,1586.2 1102.0,1579.1 1102.8,1579.1 1102.8,1574.3 1103.6,1574.3 1103.6,1524.6 1104.4,1524.6 1104.8,1524.6 1104.8,1477.6 1105.2,1477.6 1105.9,1477.6 1105.9,1479.4 1107.2,1479.4 1107.2,1476.9 1107.6,1476.9 1107.6,1477.6 1108.0,1477.6 1108.0,1526.2 1108.4,1526.2 1108.8,1526.2 1108.8,1484.8 1109.2,1484.8 1109.8,1484.8 1109.8,1483.0 1111.1,1483.0 1111.1,1485.0 1112.1,1485.0 1112.1,1484.8 1112.4,1484.8 1112.4,1513.3 1112.7,1513.3 1113.3,1513.3 1113.3,1553.5 1114.0,1553.5 1114.8,1553.5 1114.8,1582.4 1115.6,1582.4 1116.3,1582.4 1116.3,1584.8 1117.6,1584.8 1117.6,1584.1 1118.8,1584.1 1118.8,1587.2 1120.2,1587.2 1120.2,1590.2 1121.5,1590.2 1121.5,1588.2 1122.8,1588.2 1122.8,1590.4 1124.1,1590.4 1124.1,1591.2 1125.4,1591.2 1125.4,1590.2 1126.9,1590.2 1126.9,1590.4 1128.0,1590.4 1128.0,1588.9 1129.3,1588.9 1129.3,1590.5 1130.9,1590.5 1130.9,1588.8 1131.9,1588.8 1131.9,1586.6 1133.2,1586.6 1133.2,1582.4 1134.1,1582.4 1134.1,1582.4 1134.5,1582.4 1134.5,1584.3 1135.8,1584.3 1135.8,1586.1 1137.3,1586.1 1137.3,1587.2 1138.4,1587.2 1138.4,1581.6 1139.7,1581.6 1139.7,1574.3 1141.0,1574.3 1141.0,1583.0 1142.1,1583.0 1142.1,1587.2 1143.6,1587.2 1143.6,1585.6 1144.9,1585.6 1144.9,1584.8 1145.3,1584.8 1145.3,1584.0"/>
<path fill="#d7282a" d="M1099.8 293H1106V341H1099.8Z M1101.3 834.4H1108.1V934.4H1101.3Z M1104.3 1475.5H1108.9V1483.1H1113.1V1512L1111.2 1527.6H1104.3Z"/>
<path fill="none" stroke="#2e3192" stroke-width="2.8" d="M237.1 38.4H1148.9M237.1 460.3H1148.9M238.5 22.0V477.0M1147.5 22.0V477.0M303.43 22.0V38.4M303.43 460.3V477.0M368.36 22.0V38.4M368.36 460.3V477.0M433.29 22.0V38.4M433.29 460.3V477.0M498.21 22.0V38.4M498.21 460.3V477.0M563.14 22.0V38.4M563.14 460.3V477.0M628.07 22.0V38.4M628.07 460.3V477.0M693.00 22.0V38.4M693.00 460.3V477.0M757.93 22.0V38.4M757.93 460.3V477.0M822.86 22.0V38.4M822.86 460.3V477.0M887.79 22.0V38.4M887.79 460.3V477.0M952.71 22.0V38.4M952.71 460.3V477.0M1017.64 22.0V38.4M1017.64 460.3V477.0M1082.57 22.0V38.4M1082.57 460.3V477.0M238.5 460.3H255.0M1131.0 460.3H1147.5M238.5 248.8H255.0M1131.0 248.8H1147.5M238.5 37.2H255.0M1131.0 37.2H1147.5M237.1 508.3H1148.9M237.1 1122.4H1148.9M238.5 492.0V1139.0M1147.5 492.0V1139.0M303.43 492.0V508.3M303.43 1122.4V1139.0M368.36 492.0V508.3M368.36 1122.4V1139.0M433.29 492.0V508.3M433.29 1122.4V1139.0M498.21 492.0V508.3M498.21 1122.4V1139.0M563.14 492.0V508.3M563.14 1122.4V1139.0M628.07 492.0V508.3M628.07 1122.4V1139.0M693.00 492.0V508.3M693.00 1122.4V1139.0M757.93 492.0V508.3M757.93 1122.4V1139.0M822.86 492.0V508.3M822.86 1122.4V1139.0M887.79 492.0V508.3M887.79 1122.4V1139.0M952.71 492.0V508.3M952.71 1122.4V1139.0M1017.64 492.0V508.3M1017.64 1122.4V1139.0M1082.57 492.0V508.3M1082.57 1122.4V1139.0M238.5 1122.4H255.0M1131.0 1122.4H1147.5M238.5 840.0H255.0M1131.0 840.0H1147.5M238.5 558.3H255.0M1131.0 558.3H1147.5M237.1 1171.4H1148.9M237.1 1596.0H1148.9M238.5 1157.5V1612.5M1147.5 1157.5V1612.5M303.43 1157.5V1171.4M303.43 1596.0V1612.5M368.36 1157.5V1171.4M368.36 1596.0V1612.5M433.29 1157.5V1171.4M433.29 1596.0V1612.5M498.21 1157.5V1171.4M498.21 1596.0V1612.5M563.14 1157.5V1171.4M563.14 1596.0V1612.5M628.07 1157.5V1171.4M628.07 1596.0V1612.5M693.00 1157.5V1171.4M693.00 1596.0V1612.5M757.93 1157.5V1171.4M757.93 1596.0V1612.5M822.86 1157.5V1171.4M822.86 1596.0V1612.5M887.79 1157.5V1171.4M887.79 1596.0V1612.5M952.71 1157.5V1171.4M952.71 1596.0V1612.5M1017.64 1157.5V1171.4M1017.64 1596.0V1612.5M1082.57 1157.5V1171.4M1082.57 1596.0V1612.5M238.5 1596.0H255.0M1131.0 1596.0H1147.5M238.5 1426.5H255.0M1131.0 1426.5H1147.5M238.5 1257.3H255.0M1131.0 1257.3H1147.5M303.43 1171.4V1175.6"/>
<path fill="none" stroke="#231f20" stroke-width="2.4" d="M292.4 1321.7L367.2 1287.1M292.4 1374.7L359.9 1304.9M340 1409.8L357.3 1327.4M370.1 1409.8L367.7 1342.8"/>
<text transform="translate(216.3 257.0) scale(1 1.040)" font-size="40" text-anchor="end">500</text>
<text transform="translate(216.3 468.5) scale(1 1.040)" font-size="40" text-anchor="end">0</text>
<text transform="translate(216.3 566.3) scale(1 1.040)" font-size="40" text-anchor="end">1000</text>
<text transform="translate(216.3 848.0) scale(1 1.040)" font-size="40" text-anchor="end">500</text>
<text transform="translate(216.3 1130.2) scale(1 1.040)" font-size="40" text-anchor="end">0</text>
<text transform="translate(216.3 1265.8) scale(1 1.040)" font-size="40" text-anchor="end">400</text>
<text transform="translate(216.3 1435.2) scale(1 1.040)" font-size="40" text-anchor="end">200</text>
<text transform="translate(216.3 1603.9) scale(1 1.040)" font-size="40" text-anchor="end">0</text>
<text transform="translate(238.5 1664.5) scale(1 1.040)" font-size="40" text-anchor="middle">16</text>
<text transform="translate(368.4 1664.5) scale(1 1.040)" font-size="40" text-anchor="middle">17</text>
<text transform="translate(498.2 1664.5) scale(1 1.040)" font-size="40" text-anchor="middle">18</text>
<text transform="translate(628.1 1664.5) scale(1 1.040)" font-size="40" text-anchor="middle">19</text>
<text transform="translate(757.9 1664.5) scale(1 1.040)" font-size="40" text-anchor="middle">20</text>
<text transform="translate(887.8 1664.5) scale(1 1.040)" font-size="40" text-anchor="middle">21</text>
<text transform="translate(1017.6 1664.5) scale(1 1.040)" font-size="40" text-anchor="middle">22</text>
<text transform="translate(1147.5 1664.5) scale(1 1.040)" font-size="40" text-anchor="middle">23</text>
<text x="521.4" y="1734.4" font-size="46">Wavelength (nm)</text>
<text transform="translate(80.1 312.1) rotate(-90) scale(1 1.060)" font-size="45">Counts</text>
<text transform="translate(82.7 873.2) rotate(-90) scale(1 1.060)" font-size="45">Counts</text>
<text transform="translate(82.7 1448.0) rotate(-90) scale(1 1.060)" font-size="45">Counts</text>
<text x="258.4" y="104.5" font-size="40">a</text>
<text x="261.7" y="605.0" font-size="40">b</text>
<text x="254.9" y="1225.6" font-size="40">c</text>
<text x="956.5" y="105.0" font-size="51">Si</text>
<text transform="translate(957.7 152.5) scale(1 1.040)" font-size="40">13 MeV</text>
<text transform="translate(975.7 571.5) scale(1 1.040)" font-size="40">8 MeV</text>
<text transform="translate(983.0 1237.6) scale(1 1.040)" font-size="40">5 MeV</text>
<text transform="translate(947.3 219.8) scale(1 1.030)" font-size="35">VIII</text>
<text transform="translate(912.8 340.0) scale(1 1.030)" font-size="35">VIII</text>
<text transform="translate(1102.6 681.0) scale(1 1.030)" font-size="35">IX</text>
<text transform="translate(1085.0 726.4) scale(1 1.030)" font-size="35">IX</text>
<text transform="translate(1058.8 925.9) scale(1 1.030)" font-size="35">IX</text>
<text transform="translate(383.3 1267.3) scale(1 1.030)" font-size="35">VII</text>
<text transform="translate(392.5 1309.3) scale(1 1.030)" font-size="35">2</text>
<text transform="translate(935.5 1327.0) scale(1 1.030)" font-size="35">VIII</text>
<text transform="translate(966.6 1363.0) scale(1 1.030)" font-size="35">VII</text>
<text transform="translate(919.0 1459.8) scale(1 1.030)" font-size="35">VIII</text>
<text transform="translate(642.1 1375.9) scale(1 1.030)" font-size="35">?</text>
<text transform="translate(653.5 1412.8) scale(1 1.030)" font-size="35">?</text>
<text transform="translate(729.2 1485.9) scale(1 1.030)" font-size="35">?</text>
</svg></body></html>
